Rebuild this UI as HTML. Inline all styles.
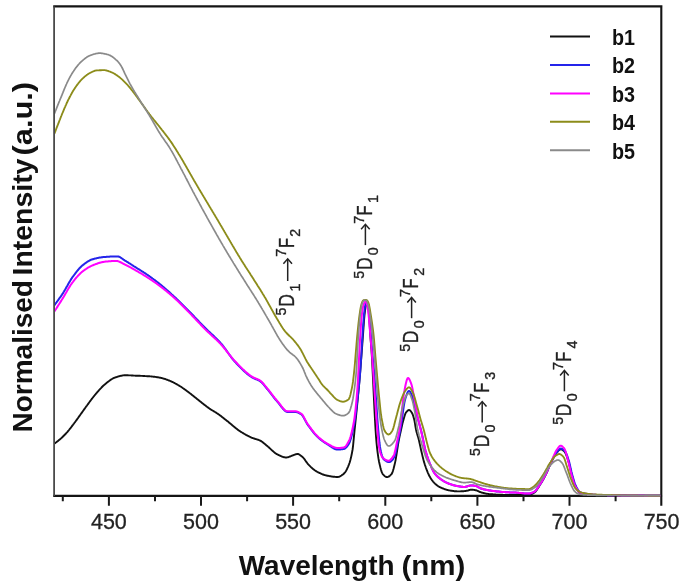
<!DOCTYPE html>
<html><head><meta charset="utf-8"><title>Spectra</title>
<style>html,body{margin:0;padding:0;background:#fff;}svg{display:block;will-change:transform;opacity:0.999;}body{font-family:"Liberation Sans",sans-serif;}</style></head>
<body>
<svg width="686" height="588" viewBox="0 0 686 588">
<rect x="0" y="0" width="686" height="588" fill="#ffffff"/>
<path d="M53.2,6.4 H662.4 M53.2,495.9 H662.4 M661.3,6.4 V505.7" stroke="#141414" stroke-width="2.1" fill="none"/>
<path d="M54.1,6.4 V495.9" stroke="#4a4a4a" stroke-width="1.8" fill="none"/>
<defs><clipPath id="c"><rect x="55.0" y="6.4" width="605.3" height="490.7"/></clipPath></defs>
<g clip-path="url(#c)" fill="none" stroke-linejoin="round" stroke-linecap="round">
<path d="M54.5,443.5 L55.0,443.2 L55.5,442.8 L56.0,442.5 L56.5,442.1 L57.0,441.7 L57.5,441.3 L58.0,440.9 L58.5,440.5 L59.0,440.1 L59.5,439.7 L60.0,439.3 L60.5,438.8 L61.0,438.4 L61.5,437.9 L62.0,437.5 L62.5,437.0 L63.0,436.5 L63.5,436.0 L64.0,435.5 L64.5,435.0 L65.0,434.5 L65.5,434.0 L66.0,433.5 L66.5,432.9 L67.0,432.4 L67.5,431.8 L68.0,431.2 L68.5,430.6 L69.0,430.0 L69.5,429.3 L70.0,428.7 L70.5,428.1 L71.0,427.4 L71.5,426.8 L72.0,426.1 L72.5,425.4 L73.0,424.8 L73.5,424.1 L74.0,423.5 L74.5,422.8 L75.0,422.1 L75.5,421.5 L76.0,420.8 L76.5,420.1 L77.0,419.4 L77.5,418.7 L78.0,418.1 L78.5,417.3 L79.0,416.6 L79.5,415.9 L80.0,415.2 L80.5,414.5 L81.0,413.8 L81.5,413.1 L82.0,412.4 L82.5,411.7 L83.0,411.0 L83.5,410.3 L84.0,409.6 L84.5,408.9 L85.0,408.2 L85.5,407.5 L86.0,406.8 L86.5,406.1 L87.0,405.5 L87.5,404.8 L88.0,404.1 L88.5,403.4 L89.0,402.7 L89.5,402.0 L90.0,401.3 L90.5,400.7 L91.0,400.0 L91.5,399.3 L92.0,398.7 L92.5,398.0 L93.0,397.4 L93.5,396.7 L94.0,396.1 L94.5,395.5 L95.0,394.9 L95.5,394.3 L96.0,393.7 L96.5,393.1 L97.0,392.5 L97.5,392.0 L98.0,391.4 L98.5,390.8 L99.0,390.2 L99.5,389.7 L100.0,389.1 L100.5,388.6 L101.0,388.1 L101.5,387.5 L102.0,387.0 L102.5,386.5 L103.0,386.0 L103.5,385.6 L104.0,385.1 L104.5,384.7 L105.0,384.3 L105.5,383.8 L106.0,383.4 L106.5,383.0 L107.0,382.6 L107.5,382.2 L108.0,381.8 L108.5,381.4 L109.0,381.0 L109.5,380.7 L110.0,380.3 L110.5,379.9 L111.0,379.6 L111.5,379.3 L112.0,379.0 L112.5,378.7 L113.0,378.4 L113.5,378.2 L114.0,377.9 L114.5,377.7 L115.0,377.6 L115.5,377.4 L116.0,377.2 L116.5,377.1 L117.0,376.9 L117.5,376.7 L118.0,376.6 L118.5,376.4 L119.0,376.3 L119.5,376.1 L120.0,376.0 L120.5,375.9 L121.0,375.8 L121.5,375.7 L122.0,375.6 L122.5,375.5 L123.0,375.4 L123.5,375.4 L124.0,375.3 L124.5,375.3 L125.0,375.3 L125.5,375.3 L126.0,375.3 L126.5,375.3 L127.0,375.3 L127.5,375.3 L128.0,375.3 L128.5,375.4 L129.0,375.4 L129.5,375.4 L130.0,375.4 L130.5,375.4 L131.0,375.4 L131.5,375.5 L132.0,375.5 L132.5,375.5 L133.0,375.5 L133.5,375.6 L134.0,375.6 L134.5,375.6 L135.0,375.6 L135.5,375.7 L136.0,375.7 L136.5,375.7 L137.0,375.7 L137.5,375.7 L138.0,375.8 L138.5,375.8 L139.0,375.8 L139.5,375.8 L140.0,375.8 L140.5,375.9 L141.0,375.9 L141.5,375.9 L142.0,375.9 L142.5,375.9 L143.0,376.0 L143.5,376.0 L144.0,376.0 L144.5,376.0 L145.0,376.1 L145.5,376.1 L146.0,376.1 L146.5,376.1 L147.0,376.2 L147.5,376.2 L148.0,376.2 L148.5,376.2 L149.0,376.3 L149.5,376.3 L150.0,376.4 L150.5,376.4 L151.0,376.4 L151.5,376.5 L152.0,376.5 L152.5,376.6 L153.0,376.6 L153.5,376.7 L154.0,376.7 L154.5,376.8 L155.0,376.9 L155.5,376.9 L156.0,377.0 L156.5,377.1 L157.0,377.2 L157.5,377.2 L158.0,377.3 L158.5,377.4 L159.0,377.5 L159.5,377.6 L160.0,377.7 L160.5,377.8 L161.0,377.9 L161.5,378.0 L162.0,378.1 L162.5,378.3 L163.0,378.4 L163.5,378.6 L164.0,378.7 L164.5,378.9 L165.0,379.0 L165.5,379.2 L166.0,379.4 L166.5,379.6 L167.0,379.7 L167.5,379.9 L168.0,380.1 L168.5,380.3 L169.0,380.5 L169.5,380.7 L170.0,380.9 L170.5,381.1 L171.0,381.3 L171.5,381.5 L172.0,381.8 L172.5,382.0 L173.0,382.2 L173.5,382.5 L174.0,382.8 L174.5,383.0 L175.0,383.3 L175.5,383.6 L176.0,383.8 L176.5,384.1 L177.0,384.4 L177.5,384.7 L178.0,385.0 L178.5,385.3 L179.0,385.6 L179.5,385.9 L180.0,386.2 L180.5,386.5 L181.0,386.8 L181.5,387.1 L182.0,387.5 L182.5,387.8 L183.0,388.2 L183.5,388.5 L184.0,388.9 L184.5,389.2 L185.0,389.6 L185.5,389.9 L186.0,390.3 L186.5,390.7 L187.0,391.1 L187.5,391.4 L188.0,391.8 L188.5,392.2 L189.0,392.6 L189.5,393.0 L190.0,393.3 L190.5,393.7 L191.0,394.1 L191.5,394.5 L192.0,394.9 L192.5,395.3 L193.0,395.7 L193.5,396.1 L194.0,396.5 L194.5,396.9 L195.0,397.3 L195.5,397.7 L196.0,398.1 L196.5,398.5 L197.0,398.9 L197.5,399.3 L198.0,399.7 L198.5,400.1 L199.0,400.5 L199.5,400.9 L200.0,401.3 L200.5,401.7 L201.0,402.1 L201.5,402.5 L202.0,402.9 L202.5,403.3 L203.0,403.7 L203.5,404.1 L204.0,404.5 L204.5,404.9 L205.0,405.2 L205.5,405.6 L206.0,406.0 L206.5,406.4 L207.0,406.8 L207.5,407.1 L208.0,407.5 L208.5,407.9 L209.0,408.2 L209.5,408.6 L210.0,408.9 L210.5,409.3 L211.0,409.6 L211.5,409.9 L212.0,410.2 L212.5,410.5 L213.0,410.8 L213.5,411.1 L214.0,411.4 L214.5,411.7 L215.0,412.0 L215.5,412.3 L216.0,412.6 L216.5,412.9 L217.0,413.3 L217.5,413.6 L218.0,413.9 L218.5,414.3 L219.0,414.6 L219.5,415.0 L220.0,415.4 L220.5,415.7 L221.0,416.1 L221.5,416.5 L222.0,416.9 L222.5,417.3 L223.0,417.7 L223.5,418.1 L224.0,418.5 L224.5,418.9 L225.0,419.3 L225.5,419.7 L226.0,420.1 L226.5,420.5 L227.0,420.9 L227.5,421.2 L228.0,421.6 L228.5,422.0 L229.0,422.5 L229.5,422.9 L230.0,423.3 L230.5,423.7 L231.0,424.1 L231.5,424.6 L232.0,425.0 L232.5,425.4 L233.0,425.8 L233.5,426.3 L234.0,426.7 L234.5,427.1 L235.0,427.5 L235.5,427.9 L236.0,428.3 L236.5,428.7 L237.0,429.1 L237.5,429.5 L238.0,429.9 L238.5,430.2 L239.0,430.6 L239.5,430.9 L240.0,431.2 L240.5,431.6 L241.0,431.9 L241.5,432.2 L242.0,432.5 L242.5,432.8 L243.0,433.1 L243.5,433.4 L244.0,433.7 L244.5,434.0 L245.0,434.3 L245.5,434.6 L246.0,434.9 L246.5,435.1 L247.0,435.4 L247.5,435.7 L248.0,435.9 L248.5,436.2 L249.0,436.4 L249.5,436.7 L250.0,436.9 L250.5,437.1 L251.0,437.4 L251.5,437.6 L252.0,437.8 L252.5,438.0 L253.0,438.2 L253.5,438.4 L254.0,438.5 L254.5,438.7 L255.0,438.8 L255.5,439.0 L256.0,439.1 L256.5,439.3 L257.0,439.4 L257.5,439.6 L258.0,439.7 L258.5,439.9 L259.0,440.1 L259.5,440.3 L260.0,440.5 L260.5,440.8 L261.0,441.0 L261.5,441.4 L262.0,441.7 L262.5,442.1 L263.0,442.5 L263.5,442.9 L264.0,443.3 L264.5,443.7 L265.0,444.1 L265.5,444.6 L266.0,445.0 L266.5,445.4 L267.0,445.8 L267.5,446.2 L268.0,446.7 L268.5,447.1 L269.0,447.5 L269.5,448.0 L270.0,448.4 L270.5,448.9 L271.0,449.4 L271.5,449.8 L272.0,450.3 L272.5,450.8 L273.0,451.2 L273.5,451.7 L274.0,452.1 L274.5,452.5 L275.0,452.9 L275.5,453.3 L276.0,453.6 L276.5,454.0 L277.0,454.2 L277.5,454.5 L278.0,454.7 L278.5,455.0 L279.0,455.2 L279.5,455.5 L280.0,455.7 L280.5,455.9 L281.0,456.2 L281.5,456.4 L282.0,456.6 L282.5,456.8 L283.0,456.9 L283.5,457.1 L284.0,457.2 L284.5,457.3 L285.0,457.4 L285.5,457.5 L286.0,457.5 L286.5,457.5 L287.0,457.4 L287.5,457.4 L288.0,457.2 L288.5,457.1 L289.0,456.9 L289.5,456.7 L290.0,456.5 L290.5,456.3 L291.0,456.1 L291.5,455.9 L292.0,455.7 L292.5,455.5 L293.0,455.3 L293.5,455.1 L294.0,454.9 L294.5,454.7 L295.0,454.6 L295.5,454.4 L296.0,454.2 L296.5,454.1 L297.0,454.0 L297.5,454.0 L298.0,454.0 L298.5,454.2 L299.0,454.4 L299.5,454.7 L300.0,455.0 L300.5,455.4 L301.0,455.8 L301.5,456.2 L302.0,456.6 L302.5,457.0 L303.0,457.4 L303.5,458.0 L304.0,458.6 L304.5,459.2 L305.0,459.9 L305.5,460.7 L306.0,461.4 L306.5,462.1 L307.0,462.8 L307.5,463.5 L308.0,464.2 L308.5,464.7 L309.0,465.2 L309.5,465.7 L310.0,466.2 L310.5,466.7 L311.0,467.2 L311.5,467.6 L312.0,468.1 L312.5,468.5 L313.0,468.9 L313.5,469.3 L314.0,469.7 L314.5,470.1 L315.0,470.5 L315.5,470.8 L316.0,471.1 L316.5,471.4 L317.0,471.7 L317.5,472.0 L318.0,472.3 L318.5,472.5 L319.0,472.7 L319.5,473.0 L320.0,473.2 L320.5,473.4 L321.0,473.7 L321.5,473.9 L322.0,474.1 L322.5,474.3 L323.0,474.5 L323.5,474.7 L324.0,474.8 L324.5,475.0 L325.0,475.1 L325.5,475.3 L326.0,475.4 L326.5,475.5 L327.0,475.7 L327.5,475.8 L328.0,475.8 L328.5,475.9 L329.0,476.0 L329.5,476.1 L330.0,476.2 L330.5,476.3 L331.0,476.4 L331.5,476.5 L332.0,476.5 L332.5,476.6 L333.0,476.7 L333.5,476.7 L334.0,476.8 L334.5,476.8 L335.0,476.9 L335.5,476.9 L336.0,477.0 L336.5,477.0 L337.0,477.0 L337.5,477.0 L338.0,477.0 L338.5,476.9 L339.0,476.8 L339.5,476.6 L340.0,476.3 L340.5,476.1 L341.0,475.8 L341.5,475.5 L342.0,475.1 L342.5,474.7 L343.0,474.4 L343.5,474.0 L344.0,473.5 L344.5,473.0 L345.0,472.4 L345.5,471.7 L346.0,470.9 L346.5,470.0 L347.0,469.0 L347.5,467.9 L348.0,466.8 L348.5,465.6 L349.0,464.4 L349.5,463.0 L350.0,461.4 L350.5,459.6 L351.0,457.6 L351.5,455.3 L352.0,452.8 L352.5,450.0 L353.0,446.3 L353.5,441.4 L354.0,436.1 L354.5,431.0 L355.0,426.2 L355.5,421.4 L356.0,416.6 L356.5,411.7 L357.0,406.7 L357.5,401.6 L358.0,396.4 L358.5,391.1 L359.0,385.7 L359.5,380.0 L360.0,374.1 L360.5,367.8 L361.0,361.5 L361.5,355.0 L362.0,348.4 L362.5,341.7 L363.0,335.0 L363.5,327.8 L364.0,320.7 L364.5,315.0 L365.0,310.8 L365.5,307.3 L366.0,305.0 L366.5,303.6 L367.0,303.0 L367.5,303.6 L368.0,305.0 L368.5,308.9 L369.0,315.0 L369.5,322.2 L370.0,330.4 L370.5,337.8 L371.0,344.1 L371.5,350.5 L372.0,358.4 L372.5,368.2 L373.0,378.8 L373.5,389.1 L374.0,399.9 L374.5,410.5 L375.0,420.0 L375.5,428.7 L376.0,436.5 L376.5,442.4 L377.0,447.3 L377.5,451.6 L378.0,455.4 L378.5,458.7 L379.0,461.5 L379.5,463.8 L380.0,465.9 L380.5,468.0 L381.0,469.8 L381.5,471.4 L382.0,472.7 L382.5,473.7 L383.0,474.4 L383.5,474.9 L384.0,475.4 L384.5,475.9 L385.0,476.3 L385.5,476.6 L386.0,476.9 L386.5,477.0 L387.0,477.1 L387.5,477.1 L388.0,476.9 L388.5,476.7 L389.0,476.5 L389.5,476.1 L390.0,475.7 L390.5,475.2 L391.0,474.7 L391.5,474.2 L392.0,473.3 L392.5,472.1 L393.0,470.6 L393.5,468.9 L394.0,467.0 L394.5,465.0 L395.0,462.9 L395.5,460.6 L396.0,457.7 L396.5,454.6 L397.0,451.3 L397.5,448.0 L398.0,444.8 L398.5,441.9 L399.0,439.3 L399.5,436.9 L400.0,434.5 L400.5,432.2 L401.0,430.0 L401.5,427.8 L402.0,425.6 L402.5,423.4 L403.0,421.4 L403.5,419.7 L404.0,417.9 L404.5,416.2 L405.0,414.7 L405.5,413.4 L406.0,412.5 L406.5,411.9 L407.0,411.3 L407.5,410.8 L408.0,410.4 L408.5,410.1 L409.0,410.0 L409.5,410.1 L410.0,410.4 L410.5,410.9 L411.0,411.5 L411.5,412.2 L412.0,413.0 L412.5,414.0 L413.0,415.3 L413.5,417.0 L414.0,418.8 L414.5,420.9 L415.0,423.7 L415.5,426.8 L416.0,429.5 L416.5,431.7 L417.0,433.5 L417.5,435.1 L418.0,436.8 L418.5,438.6 L419.0,440.6 L419.5,442.8 L420.0,445.1 L420.5,447.4 L421.0,449.7 L421.5,451.8 L422.0,453.9 L422.5,456.1 L423.0,458.1 L423.5,460.1 L424.0,461.9 L424.5,463.5 L425.0,465.1 L425.5,466.5 L426.0,468.0 L426.5,469.3 L427.0,470.7 L427.5,471.9 L428.0,473.1 L428.5,474.2 L429.0,475.3 L429.5,476.2 L430.0,477.1 L430.5,477.9 L431.0,478.7 L431.5,479.5 L432.0,480.2 L432.5,480.8 L433.0,481.5 L433.5,482.1 L434.0,482.7 L434.5,483.2 L435.0,483.7 L435.5,484.1 L436.0,484.5 L436.5,484.9 L437.0,485.3 L437.5,485.7 L438.0,486.0 L438.5,486.4 L439.0,486.7 L439.5,487.0 L440.0,487.2 L440.5,487.5 L441.0,487.7 L441.5,487.9 L442.0,488.1 L442.5,488.4 L443.0,488.5 L443.5,488.7 L444.0,488.9 L444.5,489.1 L445.0,489.3 L445.5,489.4 L446.0,489.6 L446.5,489.7 L447.0,489.9 L447.5,490.0 L448.0,490.1 L448.5,490.3 L449.0,490.4 L449.5,490.4 L450.0,490.5 L450.5,490.6 L451.0,490.7 L451.5,490.8 L452.0,490.8 L452.5,490.9 L453.0,491.0 L453.5,491.0 L454.0,491.1 L454.5,491.2 L455.0,491.2 L455.5,491.3 L456.0,491.3 L456.5,491.3 L457.0,491.4 L457.5,491.4 L458.0,491.4 L458.5,491.4 L459.0,491.4 L459.5,491.4 L460.0,491.4 L460.5,491.4 L461.0,491.3 L461.5,491.3 L462.0,491.3 L462.5,491.3 L463.0,491.2 L463.5,491.2 L464.0,491.1 L464.5,491.1 L465.0,491.0 L465.5,491.0 L466.0,490.9 L466.5,490.8 L467.0,490.7 L467.5,490.6 L468.0,490.5 L468.5,490.3 L469.0,490.2 L469.5,490.0 L470.0,489.9 L470.5,489.8 L471.0,489.8 L471.5,489.8 L472.0,489.8 L472.5,489.8 L473.0,489.8 L473.5,489.9 L474.0,489.9 L474.5,490.0 L475.0,490.1 L475.5,490.2 L476.0,490.3 L476.5,490.4 L477.0,490.6 L477.5,490.8 L478.0,491.0 L478.5,491.3 L479.0,491.5 L479.5,491.8 L480.0,492.0 L480.5,492.2 L481.0,492.4 L481.5,492.5 L482.0,492.7 L482.5,492.8 L483.0,492.9 L483.5,493.0 L484.0,493.2 L484.5,493.3 L485.0,493.4 L485.5,493.5 L486.0,493.6 L486.5,493.7 L487.0,493.8 L487.5,493.9 L488.0,493.9 L488.5,494.0 L489.0,494.1 L489.5,494.1 L490.0,494.2 L490.5,494.2 L491.0,494.2 L491.5,494.3 L492.0,494.3 L492.5,494.3 L493.0,494.4 L493.5,494.4 L494.0,494.4 L494.5,494.5 L495.0,494.5 L495.5,494.5 L496.0,494.6 L496.5,494.6 L497.0,494.6 L497.5,494.6 L498.0,494.7 L498.5,494.7 L499.0,494.7 L499.5,494.7 L500.0,494.8 L500.5,494.8 L501.0,494.8 L501.5,494.8 L502.0,494.8 L502.5,494.8 L503.0,494.9 L503.5,494.9 L504.0,494.9 L504.5,494.9 L505.0,494.9 L505.5,494.9 L506.0,494.9 L506.5,494.9 L507.0,494.9 L507.5,494.9 L508.0,494.9 L508.5,494.9 L509.0,494.9 L509.5,494.9 L510.0,494.9 L510.5,494.9 L511.0,494.9 L511.5,494.9 L512.0,494.9 L512.5,494.9 L513.0,494.9 L513.5,494.9 L514.0,494.9 L514.5,494.9 L515.0,494.9 L515.5,494.9 L516.0,494.9 L516.5,494.9 L517.0,494.9 L517.5,494.9 L518.0,494.9 L518.5,494.9 L519.0,494.9 L519.5,494.9 L520.0,494.9 L520.5,494.9 L521.0,494.9 L521.5,494.9 L522.0,494.9 L522.5,494.9 L523.0,494.9 L523.5,494.9 L524.0,494.9 L524.5,494.9 L525.0,494.9 L525.5,494.9 L526.0,494.9 L526.5,494.8 L527.0,494.8 L527.5,494.8 L528.0,494.8 L528.5,494.8 L529.0,494.8 L529.5,494.7 L530.0,494.6 L530.5,494.5 L531.0,494.3 L531.5,494.1 L532.0,493.9 L532.5,493.6 L533.0,493.4 L533.5,493.1 L534.0,492.8 L534.5,492.5 L535.0,492.1 L535.5,491.6 L536.0,491.0 L536.5,490.3 L537.0,489.6 L537.5,488.8 L538.0,488.0 L538.5,487.2 L539.0,486.4 L539.5,485.6 L540.0,484.8 L540.5,484.0 L541.0,483.2 L541.5,482.4 L542.0,481.6 L542.5,480.7 L543.0,479.8 L543.5,479.0 L544.0,478.0 L544.5,477.1 L545.0,476.2 L545.5,475.2 L546.0,474.2 L546.5,473.1 L547.0,472.0 L547.5,470.9 L548.0,469.7 L548.5,468.5 L549.0,467.3 L549.5,466.1 L550.0,465.0 L550.5,463.9 L551.0,462.8 L551.5,461.8 L552.0,460.8 L552.5,459.8 L553.0,458.8 L553.5,457.9 L554.0,456.9 L554.5,456.0 L555.0,455.2 L555.5,454.3 L556.0,453.6 L556.5,452.9 L557.0,452.3 L557.5,451.8 L558.0,451.2 L558.5,450.7 L559.0,450.2 L559.5,449.8 L560.0,449.5 L560.5,449.3 L561.0,449.3 L561.5,449.4 L562.0,449.7 L562.5,449.9 L563.0,450.3 L563.5,450.7 L564.0,451.2 L564.5,451.7 L565.0,452.3 L565.5,453.2 L566.0,454.3 L566.5,455.6 L567.0,457.0 L567.5,458.5 L568.0,460.1 L568.5,461.6 L569.0,463.4 L569.5,465.4 L570.0,467.6 L570.5,469.8 L571.0,471.9 L571.5,473.9 L572.0,475.7 L572.5,477.5 L573.0,479.3 L573.5,481.0 L574.0,482.7 L574.5,484.1 L575.0,485.4 L575.5,486.5 L576.0,487.5 L576.5,488.4 L577.0,489.3 L577.5,490.2 L578.0,490.9 L578.5,491.6 L579.0,492.2 L579.5,492.6 L580.0,493.0 L580.5,493.1 L581.0,493.2 L581.5,493.4 L582.0,493.5 L582.5,493.6 L583.0,493.7 L583.5,493.8 L584.0,493.9 L584.5,494.0 L585.0,494.1 L585.5,494.1 L586.0,494.2 L586.5,494.3 L587.0,494.4 L587.5,494.4 L588.0,494.5 L588.5,494.6 L589.0,494.6 L589.5,494.7 L590.0,494.7 L590.5,494.8 L591.0,494.8 L591.5,494.9 L592.0,494.9 L592.5,494.9 L593.0,495.0 L593.5,495.0 L594.0,495.0 L594.5,495.0 L595.0,495.1 L595.5,495.1 L596.0,495.1 L596.5,495.1 L597.0,495.1 L597.5,495.1 L598.0,495.1 L598.5,495.2 L599.0,495.2 L599.5,495.2 L600.0,495.2 L600.5,495.2 L601.0,495.2 L601.5,495.2 L602.0,495.2 L602.5,495.2 L603.0,495.2 L603.5,495.2 L604.0,495.3 L604.5,495.3 L605.0,495.3 L605.5,495.3 L606.0,495.3 L606.5,495.3 L607.0,495.3 L607.5,495.3 L608.0,495.3 L608.5,495.3 L609.0,495.3 L609.5,495.3 L610.0,495.4 L610.5,495.4 L611.0,495.4 L611.5,495.4 L612.0,495.4 L612.5,495.4 L613.0,495.4 L613.5,495.4 L614.0,495.4 L614.5,495.4 L615.0,495.4 L615.5,495.4 L616.0,495.4 L616.5,495.4 L617.0,495.4 L617.5,495.5 L618.0,495.5 L618.5,495.5 L619.0,495.5 L619.5,495.5 L620.0,495.5 L620.5,495.5 L621.0,495.5 L621.5,495.5 L622.0,495.5 L622.5,495.5 L623.0,495.5 L623.5,495.5 L624.0,495.5 L624.5,495.5 L625.0,495.5 L625.5,495.5 L626.0,495.5 L626.5,495.5 L627.0,495.6 L627.5,495.6 L628.0,495.6 L628.5,495.6 L629.0,495.6 L629.5,495.6 L630.0,495.6 L630.5,495.6 L631.0,495.6 L631.5,495.6 L632.0,495.6 L632.5,495.6 L633.0,495.6 L633.5,495.6 L634.0,495.6 L634.5,495.6 L635.0,495.6 L635.5,495.6 L636.0,495.6 L636.5,495.6 L637.0,495.6 L637.5,495.6 L638.0,495.6 L638.5,495.6 L639.0,495.6 L639.5,495.6 L640.0,495.6 L640.5,495.6 L641.0,495.7 L641.5,495.7 L642.0,495.7 L642.5,495.7 L643.0,495.7 L643.5,495.7 L644.0,495.7 L644.5,495.7 L645.0,495.7 L645.5,495.7 L646.0,495.7 L646.5,495.7 L647.0,495.7 L647.5,495.7 L648.0,495.7 L648.5,495.7 L649.0,495.7 L649.5,495.7 L650.0,495.7 L650.5,495.7 L651.0,495.7 L651.5,495.7 L652.0,495.7 L652.5,495.7 L653.0,495.7 L653.5,495.7 L654.0,495.7 L654.5,495.7 L655.0,495.7 L655.5,495.7 L656.0,495.7 L656.5,495.7 L657.0,495.7 L657.5,495.7 L658.0,495.7 L658.5,495.7 L659.0,495.7 L659.5,495.7 L660.0,495.7 L660.5,495.7 L661.0,495.7 L661.5,495.7" stroke="#111111" stroke-width="1.9"/>
<path d="M54.5,305.0 L55.0,304.4 L55.5,303.7 L56.0,303.0 L56.5,302.4 L57.0,301.7 L57.5,301.0 L58.0,300.3 L58.5,299.6 L59.0,298.9 L59.5,298.2 L60.0,297.5 L60.5,296.8 L61.0,296.1 L61.5,295.3 L62.0,294.6 L62.5,293.8 L63.0,293.1 L63.5,292.3 L64.0,291.5 L64.5,290.6 L65.0,289.8 L65.5,288.9 L66.0,288.0 L66.5,287.1 L67.0,286.3 L67.5,285.4 L68.0,284.5 L68.5,283.6 L69.0,282.7 L69.5,281.9 L70.0,281.1 L70.5,280.2 L71.0,279.4 L71.5,278.7 L72.0,277.9 L72.5,277.2 L73.0,276.5 L73.5,275.8 L74.0,275.2 L74.5,274.5 L75.0,273.8 L75.5,273.1 L76.0,272.5 L76.5,271.8 L77.0,271.2 L77.5,270.6 L78.0,270.0 L78.5,269.4 L79.0,268.8 L79.5,268.3 L80.0,267.7 L80.5,267.2 L81.0,266.7 L81.5,266.2 L82.0,265.8 L82.5,265.4 L83.0,265.0 L83.5,264.6 L84.0,264.2 L84.5,263.8 L85.0,263.4 L85.5,263.1 L86.0,262.7 L86.5,262.4 L87.0,262.0 L87.5,261.7 L88.0,261.4 L88.5,261.1 L89.0,260.8 L89.5,260.5 L90.0,260.3 L90.5,260.0 L91.0,259.8 L91.5,259.6 L92.0,259.5 L92.5,259.3 L93.0,259.2 L93.5,259.0 L94.0,258.9 L94.5,258.7 L95.0,258.6 L95.5,258.5 L96.0,258.4 L96.5,258.3 L97.0,258.1 L97.5,258.0 L98.0,257.9 L98.5,257.8 L99.0,257.7 L99.5,257.6 L100.0,257.6 L100.5,257.5 L101.0,257.4 L101.5,257.3 L102.0,257.3 L102.5,257.2 L103.0,257.1 L103.5,257.1 L104.0,257.0 L104.5,257.0 L105.0,257.0 L105.5,256.9 L106.0,256.9 L106.5,256.8 L107.0,256.8 L107.5,256.8 L108.0,256.8 L108.5,256.7 L109.0,256.7 L109.5,256.7 L110.0,256.6 L110.5,256.6 L111.0,256.6 L111.5,256.6 L112.0,256.5 L112.5,256.5 L113.0,256.5 L113.5,256.5 L114.0,256.5 L114.5,256.4 L115.0,256.4 L115.5,256.4 L116.0,256.4 L116.5,256.4 L117.0,256.4 L117.5,256.4 L118.0,256.4 L118.5,256.5 L119.0,256.7 L119.5,256.9 L120.0,257.2 L120.5,257.5 L121.0,257.8 L121.5,258.1 L122.0,258.5 L122.5,258.8 L123.0,259.2 L123.5,259.6 L124.0,259.9 L124.5,260.3 L125.0,260.6 L125.5,260.9 L126.0,261.2 L126.5,261.5 L127.0,261.8 L127.5,262.1 L128.0,262.4 L128.5,262.7 L129.0,263.1 L129.5,263.4 L130.0,263.7 L130.5,264.0 L131.0,264.3 L131.5,264.7 L132.0,265.0 L132.5,265.3 L133.0,265.6 L133.5,266.0 L134.0,266.3 L134.5,266.6 L135.0,266.9 L135.5,267.2 L136.0,267.5 L136.5,267.9 L137.0,268.2 L137.5,268.5 L138.0,268.8 L138.5,269.1 L139.0,269.4 L139.5,269.7 L140.0,270.0 L140.5,270.4 L141.0,270.7 L141.5,271.0 L142.0,271.3 L142.5,271.6 L143.0,271.9 L143.5,272.2 L144.0,272.6 L144.5,272.9 L145.0,273.2 L145.5,273.5 L146.0,273.9 L146.5,274.2 L147.0,274.6 L147.5,274.9 L148.0,275.2 L148.5,275.6 L149.0,275.9 L149.5,276.3 L150.0,276.6 L150.5,277.0 L151.0,277.4 L151.5,277.7 L152.0,278.1 L152.5,278.5 L153.0,278.8 L153.5,279.2 L154.0,279.6 L154.5,279.9 L155.0,280.3 L155.5,280.7 L156.0,281.1 L156.5,281.5 L157.0,281.9 L157.5,282.2 L158.0,282.6 L158.5,283.0 L159.0,283.4 L159.5,283.8 L160.0,284.2 L160.5,284.6 L161.0,285.0 L161.5,285.4 L162.0,285.9 L162.5,286.3 L163.0,286.7 L163.5,287.1 L164.0,287.5 L164.5,288.0 L165.0,288.4 L165.5,288.8 L166.0,289.3 L166.5,289.7 L167.0,290.1 L167.5,290.6 L168.0,291.0 L168.5,291.4 L169.0,291.9 L169.5,292.3 L170.0,292.8 L170.5,293.2 L171.0,293.7 L171.5,294.2 L172.0,294.6 L172.5,295.1 L173.0,295.5 L173.5,296.0 L174.0,296.4 L174.5,296.9 L175.0,297.4 L175.5,297.8 L176.0,298.3 L176.5,298.8 L177.0,299.3 L177.5,299.7 L178.0,300.2 L178.5,300.7 L179.0,301.2 L179.5,301.7 L180.0,302.2 L180.5,302.7 L181.0,303.2 L181.5,303.7 L182.0,304.2 L182.5,304.7 L183.0,305.2 L183.5,305.7 L184.0,306.2 L184.5,306.7 L185.0,307.2 L185.5,307.7 L186.0,308.2 L186.5,308.7 L187.0,309.2 L187.5,309.7 L188.0,310.2 L188.5,310.7 L189.0,311.2 L189.5,311.7 L190.0,312.2 L190.5,312.8 L191.0,313.3 L191.5,313.8 L192.0,314.3 L192.5,314.8 L193.0,315.3 L193.5,315.8 L194.0,316.3 L194.5,316.9 L195.0,317.4 L195.5,317.9 L196.0,318.4 L196.5,318.9 L197.0,319.5 L197.5,320.0 L198.0,320.5 L198.5,321.0 L199.0,321.6 L199.5,322.1 L200.0,322.6 L200.5,323.1 L201.0,323.6 L201.5,324.1 L202.0,324.7 L202.5,325.2 L203.0,325.7 L203.5,326.2 L204.0,326.7 L204.5,327.2 L205.0,327.7 L205.5,328.2 L206.0,328.7 L206.5,329.2 L207.0,329.7 L207.5,330.2 L208.0,330.7 L208.5,331.1 L209.0,331.6 L209.5,332.1 L210.0,332.5 L210.5,333.0 L211.0,333.5 L211.5,333.9 L212.0,334.4 L212.5,334.9 L213.0,335.3 L213.5,335.8 L214.0,336.3 L214.5,336.8 L215.0,337.2 L215.5,337.7 L216.0,338.2 L216.5,338.7 L217.0,339.2 L217.5,339.7 L218.0,340.2 L218.5,340.7 L219.0,341.3 L219.5,341.8 L220.0,342.3 L220.5,342.9 L221.0,343.4 L221.5,344.0 L222.0,344.6 L222.5,345.2 L223.0,345.9 L223.5,346.5 L224.0,347.2 L224.5,347.8 L225.0,348.5 L225.5,349.2 L226.0,349.9 L226.5,350.6 L227.0,351.3 L227.5,352.0 L228.0,352.7 L228.5,353.5 L229.0,354.2 L229.5,354.9 L230.0,355.6 L230.5,356.2 L231.0,356.9 L231.5,357.6 L232.0,358.3 L232.5,358.9 L233.0,359.5 L233.5,360.1 L234.0,360.7 L234.5,361.3 L235.0,361.9 L235.5,362.4 L236.0,362.9 L236.5,363.5 L237.0,364.0 L237.5,364.5 L238.0,365.0 L238.5,365.6 L239.0,366.1 L239.5,366.6 L240.0,367.1 L240.5,367.6 L241.0,368.1 L241.5,368.6 L242.0,369.1 L242.5,369.6 L243.0,370.1 L243.5,370.6 L244.0,371.0 L244.5,371.5 L245.0,371.9 L245.5,372.4 L246.0,372.8 L246.5,373.2 L247.0,373.7 L247.5,374.1 L248.0,374.5 L248.5,374.9 L249.0,375.2 L249.5,375.6 L250.0,376.0 L250.5,376.3 L251.0,376.7 L251.5,377.0 L252.0,377.3 L252.5,377.6 L253.0,377.9 L253.5,378.1 L254.0,378.4 L254.5,378.6 L255.0,378.8 L255.5,379.0 L256.0,379.2 L256.5,379.4 L257.0,379.6 L257.5,379.8 L258.0,380.0 L258.5,380.2 L259.0,380.5 L259.5,380.8 L260.0,381.1 L260.5,381.5 L261.0,381.9 L261.5,382.3 L262.0,382.8 L262.5,383.3 L263.0,383.9 L263.5,384.4 L264.0,385.0 L264.5,385.7 L265.0,386.3 L265.5,386.9 L266.0,387.5 L266.5,388.1 L267.0,388.8 L267.5,389.4 L268.0,389.9 L268.5,390.5 L269.0,391.2 L269.5,391.8 L270.0,392.4 L270.5,393.1 L271.0,393.7 L271.5,394.4 L272.0,395.0 L272.5,395.7 L273.0,396.3 L273.5,397.0 L274.0,397.6 L274.5,398.3 L275.0,398.9 L275.5,399.5 L276.0,400.1 L276.5,400.7 L277.0,401.3 L277.5,401.9 L278.0,402.4 L278.5,403.0 L279.0,403.7 L279.5,404.3 L280.0,405.0 L280.5,405.6 L281.0,406.3 L281.5,407.0 L282.0,407.6 L282.5,408.2 L283.0,408.8 L283.5,409.4 L284.0,409.9 L284.5,410.4 L285.0,410.8 L285.5,411.2 L286.0,411.5 L286.5,411.7 L287.0,411.8 L287.5,411.9 L288.0,411.9 L288.5,411.9 L289.0,411.9 L289.5,411.9 L290.0,411.9 L290.5,411.9 L291.0,411.9 L291.5,411.9 L292.0,411.9 L292.5,411.9 L293.0,411.9 L293.5,411.9 L294.0,411.9 L294.5,411.9 L295.0,411.9 L295.5,411.9 L296.0,411.9 L296.5,412.0 L297.0,412.2 L297.5,412.3 L298.0,412.5 L298.5,412.8 L299.0,413.0 L299.5,413.3 L300.0,413.6 L300.5,413.9 L301.0,414.2 L301.5,414.5 L302.0,415.0 L302.5,415.6 L303.0,416.3 L303.5,417.2 L304.0,418.0 L304.5,419.0 L305.0,419.9 L305.5,420.9 L306.0,421.8 L306.5,422.8 L307.0,423.6 L307.5,424.4 L308.0,425.1 L308.5,425.8 L309.0,426.5 L309.5,427.2 L310.0,427.9 L310.5,428.5 L311.0,429.2 L311.5,429.9 L312.0,430.6 L312.5,431.2 L313.0,431.8 L313.5,432.5 L314.0,433.1 L314.5,433.7 L315.0,434.2 L315.5,434.8 L316.0,435.3 L316.5,435.9 L317.0,436.4 L317.5,436.9 L318.0,437.3 L318.5,437.8 L319.0,438.2 L319.5,438.6 L320.0,439.1 L320.5,439.5 L321.0,439.9 L321.5,440.3 L322.0,440.6 L322.5,441.0 L323.0,441.4 L323.5,441.7 L324.0,442.1 L324.5,442.4 L325.0,442.8 L325.5,443.1 L326.0,443.4 L326.5,443.7 L327.0,444.0 L327.5,444.4 L328.0,444.7 L328.5,445.0 L329.0,445.3 L329.5,445.7 L330.0,446.0 L330.5,446.4 L331.0,446.7 L331.5,447.0 L332.0,447.4 L332.5,447.7 L333.0,448.0 L333.5,448.3 L334.0,448.5 L334.5,448.8 L335.0,449.0 L335.5,449.2 L336.0,449.3 L336.5,449.4 L337.0,449.5 L337.5,449.5 L338.0,449.5 L338.5,449.5 L339.0,449.5 L339.5,449.4 L340.0,449.4 L340.5,449.4 L341.0,449.3 L341.5,449.3 L342.0,449.2 L342.5,449.2 L343.0,449.1 L343.5,449.0 L344.0,448.9 L344.5,448.8 L345.0,448.5 L345.5,448.1 L346.0,447.6 L346.5,447.1 L347.0,446.5 L347.5,445.9 L348.0,445.2 L348.5,444.5 L349.0,443.6 L349.5,442.5 L350.0,441.3 L350.5,439.8 L351.0,438.1 L351.5,436.2 L352.0,434.2 L352.5,432.1 L353.0,429.8 L353.5,427.4 L354.0,425.0 L354.5,422.3 L355.0,419.2 L355.5,415.7 L356.0,411.9 L356.5,407.8 L357.0,403.5 L357.5,399.1 L358.0,394.6 L358.5,390.0 L359.0,385.3 L359.5,380.2 L360.0,374.5 L360.5,367.8 L361.0,359.9 L361.5,351.7 L362.0,343.1 L362.5,335.0 L363.0,327.6 L363.5,320.7 L364.0,315.0 L364.5,310.2 L365.0,306.4 L365.5,304.4 L366.0,303.0 L366.5,302.2 L367.0,302.1 L367.5,302.7 L368.0,304.0 L368.5,306.1 L369.0,311.4 L369.5,317.4 L370.0,324.1 L370.5,331.1 L371.0,337.5 L371.5,343.5 L372.0,349.4 L372.5,355.0 L373.0,360.3 L373.5,365.3 L374.0,370.5 L374.5,376.5 L375.0,383.6 L375.5,391.2 L376.0,398.6 L376.5,406.0 L377.0,413.5 L377.5,420.7 L378.0,427.0 L378.5,432.7 L379.0,438.1 L379.5,443.0 L380.0,446.9 L380.5,449.6 L381.0,451.9 L381.5,453.9 L382.0,455.7 L382.5,457.2 L383.0,458.3 L383.5,459.0 L384.0,459.5 L384.5,459.9 L385.0,460.3 L385.5,460.7 L386.0,461.0 L386.5,461.3 L387.0,461.6 L387.5,461.8 L388.0,461.9 L388.5,462.0 L389.0,462.1 L389.5,462.1 L390.0,462.0 L390.5,461.7 L391.0,461.4 L391.5,460.9 L392.0,460.4 L392.5,459.8 L393.0,459.1 L393.5,458.3 L394.0,457.5 L394.5,456.6 L395.0,455.3 L395.5,453.4 L396.0,451.3 L396.5,448.9 L397.0,446.3 L397.5,443.8 L398.0,441.4 L398.5,439.0 L399.0,436.6 L399.5,434.0 L400.0,431.4 L400.5,428.7 L401.0,425.8 L401.5,422.6 L402.0,419.0 L402.5,415.3 L403.0,411.5 L403.5,408.0 L404.0,404.8 L404.5,402.1 L405.0,400.0 L405.5,398.3 L406.0,396.7 L406.5,395.2 L407.0,393.8 L407.5,392.6 L408.0,391.7 L408.5,391.1 L409.0,390.9 L409.5,391.1 L410.0,391.6 L410.5,392.4 L411.0,393.4 L411.5,394.5 L412.0,395.7 L412.5,397.0 L413.0,398.6 L413.5,400.6 L414.0,403.0 L414.5,405.4 L415.0,407.8 L415.5,410.0 L416.0,411.9 L416.5,413.8 L417.0,415.6 L417.5,417.4 L418.0,419.2 L418.5,421.0 L419.0,422.8 L419.5,424.6 L420.0,426.4 L420.5,428.2 L421.0,430.1 L421.5,432.1 L422.0,434.2 L422.5,436.5 L423.0,439.0 L423.5,441.5 L424.0,444.0 L424.5,446.4 L425.0,448.7 L425.5,450.7 L426.0,452.4 L426.5,454.1 L427.0,455.7 L427.5,457.2 L428.0,458.6 L428.5,460.0 L429.0,461.3 L429.5,462.6 L430.0,463.8 L430.5,465.0 L431.0,466.2 L431.5,467.3 L432.0,468.5 L432.5,469.6 L433.0,470.6 L433.5,471.6 L434.0,472.5 L434.5,473.2 L435.0,473.8 L435.5,474.4 L436.0,475.0 L436.5,475.5 L437.0,476.0 L437.5,476.5 L438.0,477.0 L438.5,477.4 L439.0,477.8 L439.5,478.2 L440.0,478.6 L440.5,479.0 L441.0,479.3 L441.5,479.7 L442.0,480.0 L442.5,480.4 L443.0,480.7 L443.5,481.0 L444.0,481.3 L444.5,481.6 L445.0,481.9 L445.5,482.1 L446.0,482.4 L446.5,482.6 L447.0,482.9 L447.5,483.1 L448.0,483.3 L448.5,483.5 L449.0,483.7 L449.5,483.9 L450.0,484.1 L450.5,484.2 L451.0,484.4 L451.5,484.6 L452.0,484.7 L452.5,484.9 L453.0,485.0 L453.5,485.2 L454.0,485.3 L454.5,485.4 L455.0,485.6 L455.5,485.7 L456.0,485.8 L456.5,485.9 L457.0,486.0 L457.5,486.1 L458.0,486.2 L458.5,486.2 L459.0,486.3 L459.5,486.4 L460.0,486.5 L460.5,486.6 L461.0,486.7 L461.5,486.7 L462.0,486.8 L462.5,486.8 L463.0,486.9 L463.5,486.9 L464.0,486.9 L464.5,486.9 L465.0,486.9 L465.5,486.8 L466.0,486.7 L466.5,486.6 L467.0,486.4 L467.5,486.3 L468.0,486.1 L468.5,485.9 L469.0,485.8 L469.5,485.7 L470.0,485.6 L470.5,485.5 L471.0,485.4 L471.5,485.4 L472.0,485.4 L472.5,485.5 L473.0,485.5 L473.5,485.6 L474.0,485.7 L474.5,485.8 L475.0,485.9 L475.5,486.0 L476.0,486.1 L476.5,486.2 L477.0,486.4 L477.5,486.7 L478.0,487.0 L478.5,487.2 L479.0,487.5 L479.5,487.8 L480.0,488.1 L480.5,488.3 L481.0,488.5 L481.5,488.7 L482.0,488.8 L482.5,489.0 L483.0,489.1 L483.5,489.3 L484.0,489.4 L484.5,489.5 L485.0,489.6 L485.5,489.7 L486.0,489.8 L486.5,489.9 L487.0,490.0 L487.5,490.1 L488.0,490.2 L488.5,490.3 L489.0,490.4 L489.5,490.5 L490.0,490.5 L490.5,490.6 L491.0,490.7 L491.5,490.7 L492.0,490.8 L492.5,490.9 L493.0,490.9 L493.5,491.0 L494.0,491.1 L494.5,491.1 L495.0,491.2 L495.5,491.2 L496.0,491.3 L496.5,491.4 L497.0,491.4 L497.5,491.5 L498.0,491.5 L498.5,491.6 L499.0,491.6 L499.5,491.7 L500.0,491.7 L500.5,491.8 L501.0,491.8 L501.5,491.9 L502.0,491.9 L502.5,491.9 L503.0,492.0 L503.5,492.0 L504.0,492.0 L504.5,492.1 L505.0,492.1 L505.5,492.2 L506.0,492.2 L506.5,492.2 L507.0,492.2 L507.5,492.3 L508.0,492.3 L508.5,492.3 L509.0,492.3 L509.5,492.4 L510.0,492.4 L510.5,492.4 L511.0,492.4 L511.5,492.4 L512.0,492.4 L512.5,492.4 L513.0,492.5 L513.5,492.5 L514.0,492.5 L514.5,492.5 L515.0,492.5 L515.5,492.6 L516.0,492.6 L516.5,492.7 L517.0,492.7 L517.5,492.7 L518.0,492.8 L518.5,492.8 L519.0,492.9 L519.5,492.9 L520.0,493.0 L520.5,493.0 L521.0,493.1 L521.5,493.1 L522.0,493.2 L522.5,493.2 L523.0,493.3 L523.5,493.3 L524.0,493.4 L524.5,493.4 L525.0,493.5 L525.5,493.5 L526.0,493.5 L526.5,493.6 L527.0,493.6 L527.5,493.6 L528.0,493.6 L528.5,493.6 L529.0,493.6 L529.5,493.5 L530.0,493.5 L530.5,493.3 L531.0,493.2 L531.5,493.0 L532.0,492.8 L532.5,492.6 L533.0,492.4 L533.5,492.2 L534.0,491.9 L534.5,491.6 L535.0,491.3 L535.5,490.8 L536.0,490.2 L536.5,489.6 L537.0,488.9 L537.5,488.2 L538.0,487.4 L538.5,486.6 L539.0,485.8 L539.5,485.1 L540.0,484.3 L540.5,483.5 L541.0,482.8 L541.5,481.9 L542.0,481.1 L542.5,480.3 L543.0,479.4 L543.5,478.5 L544.0,477.6 L544.5,476.6 L545.0,475.7 L545.5,474.7 L546.0,473.7 L546.5,472.6 L547.0,471.5 L547.5,470.3 L548.0,469.1 L548.5,467.9 L549.0,466.7 L549.5,465.5 L550.0,464.4 L550.5,463.2 L551.0,462.2 L551.5,461.2 L552.0,460.3 L552.5,459.3 L553.0,458.4 L553.5,457.5 L554.0,456.6 L554.5,455.8 L555.0,454.9 L555.5,454.2 L556.0,453.4 L556.5,452.7 L557.0,452.1 L557.5,451.5 L558.0,450.9 L558.5,450.2 L559.0,449.7 L559.5,449.2 L560.0,448.8 L560.5,448.6 L561.0,448.6 L561.5,448.7 L562.0,448.9 L562.5,449.2 L563.0,449.5 L563.5,449.9 L564.0,450.3 L564.5,450.7 L565.0,451.2 L565.5,451.9 L566.0,452.9 L566.5,454.0 L567.0,455.3 L567.5,456.7 L568.0,458.2 L568.5,459.7 L569.0,461.3 L569.5,463.2 L570.0,465.4 L570.5,467.6 L571.0,469.8 L571.5,472.0 L572.0,473.9 L572.5,475.7 L573.0,477.6 L573.5,479.3 L574.0,481.0 L574.5,482.6 L575.0,484.1 L575.5,485.3 L576.0,486.3 L576.5,487.3 L577.0,488.2 L577.5,489.1 L578.0,490.0 L578.5,490.7 L579.0,491.4 L579.5,491.9 L580.0,492.3 L580.5,492.5 L581.0,492.7 L581.5,492.8 L582.0,492.9 L582.5,493.1 L583.0,493.2 L583.5,493.3 L584.0,493.4 L584.5,493.5 L585.0,493.6 L585.5,493.7 L586.0,493.8 L586.5,493.9 L587.0,494.0 L587.5,494.1 L588.0,494.1 L588.5,494.2 L589.0,494.3 L589.5,494.3 L590.0,494.4 L590.5,494.5 L591.0,494.5 L591.5,494.6 L592.0,494.6 L592.5,494.6 L593.0,494.7 L593.5,494.7 L594.0,494.8 L594.5,494.8 L595.0,494.8 L595.5,494.8 L596.0,494.9 L596.5,494.9 L597.0,494.9 L597.5,494.9 L598.0,494.9 L598.5,494.9 L599.0,495.0 L599.5,495.0 L600.0,495.0 L600.5,495.0 L601.0,495.0 L601.5,495.0 L602.0,495.0 L602.5,495.0 L603.0,495.1 L603.5,495.1 L604.0,495.1 L604.5,495.1 L605.0,495.1 L605.5,495.1 L606.0,495.1 L606.5,495.1 L607.0,495.1 L607.5,495.2 L608.0,495.2 L608.5,495.2 L609.0,495.2 L609.5,495.2 L610.0,495.2 L610.5,495.2 L611.0,495.2 L611.5,495.2 L612.0,495.3 L612.5,495.3 L613.0,495.3 L613.5,495.3 L614.0,495.3 L614.5,495.3 L615.0,495.3 L615.5,495.3 L616.0,495.3 L616.5,495.3 L617.0,495.3 L617.5,495.4 L618.0,495.4 L618.5,495.4 L619.0,495.4 L619.5,495.4 L620.0,495.4 L620.5,495.4 L621.0,495.4 L621.5,495.4 L622.0,495.4 L622.5,495.4 L623.0,495.4 L623.5,495.4 L624.0,495.5 L624.5,495.5 L625.0,495.5 L625.5,495.5 L626.0,495.5 L626.5,495.5 L627.0,495.5 L627.5,495.5 L628.0,495.5 L628.5,495.5 L629.0,495.5 L629.5,495.5 L630.0,495.5 L630.5,495.5 L631.0,495.5 L631.5,495.5 L632.0,495.5 L632.5,495.6 L633.0,495.6 L633.5,495.6 L634.0,495.6 L634.5,495.6 L635.0,495.6 L635.5,495.6 L636.0,495.6 L636.5,495.6 L637.0,495.6 L637.5,495.6 L638.0,495.6 L638.5,495.6 L639.0,495.6 L639.5,495.6 L640.0,495.6 L640.5,495.6 L641.0,495.6 L641.5,495.6 L642.0,495.6 L642.5,495.6 L643.0,495.6 L643.5,495.6 L644.0,495.6 L644.5,495.7 L645.0,495.7 L645.5,495.7 L646.0,495.7 L646.5,495.7 L647.0,495.7 L647.5,495.7 L648.0,495.7 L648.5,495.7 L649.0,495.7 L649.5,495.7 L650.0,495.7 L650.5,495.7 L651.0,495.7 L651.5,495.7 L652.0,495.7 L652.5,495.7 L653.0,495.7 L653.5,495.7 L654.0,495.7 L654.5,495.7 L655.0,495.7 L655.5,495.7 L656.0,495.7 L656.5,495.7 L657.0,495.7 L657.5,495.7 L658.0,495.7 L658.5,495.7 L659.0,495.7 L659.5,495.7 L660.0,495.7 L660.5,495.7 L661.0,495.7 L661.5,495.7" stroke="#2424ea" stroke-width="2.0"/>
<path d="M54.5,311.3 L55.0,310.5 L55.5,309.7 L56.0,309.0 L56.5,308.2 L57.0,307.4 L57.5,306.6 L58.0,305.8 L58.5,305.0 L59.0,304.2 L59.5,303.5 L60.0,302.7 L60.5,301.9 L61.0,301.1 L61.5,300.3 L62.0,299.5 L62.5,298.7 L63.0,297.9 L63.5,297.1 L64.0,296.2 L64.5,295.4 L65.0,294.5 L65.5,293.6 L66.0,292.8 L66.5,291.9 L67.0,291.0 L67.5,290.2 L68.0,289.3 L68.5,288.5 L69.0,287.7 L69.5,286.9 L70.0,286.1 L70.5,285.3 L71.0,284.5 L71.5,283.8 L72.0,283.1 L72.5,282.4 L73.0,281.8 L73.5,281.1 L74.0,280.5 L74.5,279.9 L75.0,279.2 L75.5,278.6 L76.0,278.0 L76.5,277.4 L77.0,276.9 L77.5,276.3 L78.0,275.7 L78.5,275.2 L79.0,274.7 L79.5,274.2 L80.0,273.7 L80.5,273.2 L81.0,272.7 L81.5,272.3 L82.0,271.9 L82.5,271.5 L83.0,271.1 L83.5,270.7 L84.0,270.4 L84.5,270.0 L85.0,269.6 L85.5,269.3 L86.0,269.0 L86.5,268.6 L87.0,268.3 L87.5,268.0 L88.0,267.7 L88.5,267.4 L89.0,267.1 L89.5,266.9 L90.0,266.6 L90.5,266.3 L91.0,266.1 L91.5,265.9 L92.0,265.6 L92.5,265.4 L93.0,265.2 L93.5,265.0 L94.0,264.8 L94.5,264.6 L95.0,264.4 L95.5,264.2 L96.0,264.0 L96.5,263.9 L97.0,263.7 L97.5,263.5 L98.0,263.3 L98.5,263.1 L99.0,263.0 L99.5,262.8 L100.0,262.7 L100.5,262.5 L101.0,262.4 L101.5,262.3 L102.0,262.2 L102.5,262.0 L103.0,261.9 L103.5,261.9 L104.0,261.8 L104.5,261.7 L105.0,261.7 L105.5,261.6 L106.0,261.6 L106.5,261.5 L107.0,261.5 L107.5,261.4 L108.0,261.4 L108.5,261.3 L109.0,261.3 L109.5,261.3 L110.0,261.2 L110.5,261.2 L111.0,261.2 L111.5,261.1 L112.0,261.1 L112.5,261.1 L113.0,261.1 L113.5,261.0 L114.0,261.0 L114.5,261.0 L115.0,261.0 L115.5,261.0 L116.0,261.0 L116.5,261.0 L117.0,261.0 L117.5,261.1 L118.0,261.2 L118.5,261.4 L119.0,261.6 L119.5,261.8 L120.0,262.0 L120.5,262.2 L121.0,262.5 L121.5,262.7 L122.0,263.0 L122.5,263.3 L123.0,263.5 L123.5,263.8 L124.0,264.1 L124.5,264.3 L125.0,264.6 L125.5,264.8 L126.0,265.1 L126.5,265.3 L127.0,265.6 L127.5,265.8 L128.0,266.1 L128.5,266.3 L129.0,266.6 L129.5,266.9 L130.0,267.1 L130.5,267.4 L131.0,267.7 L131.5,268.0 L132.0,268.3 L132.5,268.5 L133.0,268.8 L133.5,269.1 L134.0,269.4 L134.5,269.7 L135.0,270.0 L135.5,270.3 L136.0,270.5 L136.5,270.8 L137.0,271.1 L137.5,271.4 L138.0,271.7 L138.5,272.0 L139.0,272.3 L139.5,272.6 L140.0,272.9 L140.5,273.1 L141.0,273.4 L141.5,273.7 L142.0,274.0 L142.5,274.3 L143.0,274.6 L143.5,274.9 L144.0,275.3 L144.5,275.6 L145.0,275.9 L145.5,276.2 L146.0,276.5 L146.5,276.8 L147.0,277.1 L147.5,277.4 L148.0,277.8 L148.5,278.1 L149.0,278.4 L149.5,278.7 L150.0,279.1 L150.5,279.4 L151.0,279.7 L151.5,280.1 L152.0,280.4 L152.5,280.7 L153.0,281.1 L153.5,281.4 L154.0,281.8 L154.5,282.1 L155.0,282.5 L155.5,282.8 L156.0,283.2 L156.5,283.5 L157.0,283.9 L157.5,284.3 L158.0,284.6 L158.5,285.0 L159.0,285.4 L159.5,285.7 L160.0,286.1 L160.5,286.5 L161.0,286.9 L161.5,287.2 L162.0,287.6 L162.5,288.0 L163.0,288.4 L163.5,288.8 L164.0,289.2 L164.5,289.6 L165.0,290.0 L165.5,290.4 L166.0,290.8 L166.5,291.2 L167.0,291.6 L167.5,292.0 L168.0,292.5 L168.5,292.9 L169.0,293.3 L169.5,293.7 L170.0,294.1 L170.5,294.6 L171.0,295.0 L171.5,295.4 L172.0,295.9 L172.5,296.3 L173.0,296.8 L173.5,297.2 L174.0,297.6 L174.5,298.1 L175.0,298.5 L175.5,299.0 L176.0,299.5 L176.5,299.9 L177.0,300.4 L177.5,300.9 L178.0,301.3 L178.5,301.8 L179.0,302.3 L179.5,302.8 L180.0,303.3 L180.5,303.8 L181.0,304.3 L181.5,304.8 L182.0,305.3 L182.5,305.8 L183.0,306.3 L183.5,306.8 L184.0,307.3 L184.5,307.8 L185.0,308.3 L185.5,308.8 L186.0,309.3 L186.5,309.8 L187.0,310.3 L187.5,310.8 L188.0,311.4 L188.5,311.9 L189.0,312.4 L189.5,312.9 L190.0,313.4 L190.5,313.9 L191.0,314.4 L191.5,314.9 L192.0,315.5 L192.5,316.0 L193.0,316.5 L193.5,317.0 L194.0,317.6 L194.5,318.1 L195.0,318.6 L195.5,319.1 L196.0,319.7 L196.5,320.2 L197.0,320.7 L197.5,321.3 L198.0,321.8 L198.5,322.3 L199.0,322.9 L199.5,323.4 L200.0,323.9 L200.5,324.4 L201.0,325.0 L201.5,325.5 L202.0,326.0 L202.5,326.5 L203.0,327.0 L203.5,327.6 L204.0,328.1 L204.5,328.6 L205.0,329.1 L205.5,329.6 L206.0,330.1 L206.5,330.6 L207.0,331.0 L207.5,331.5 L208.0,332.0 L208.5,332.5 L209.0,332.9 L209.5,333.4 L210.0,333.9 L210.5,334.3 L211.0,334.8 L211.5,335.2 L212.0,335.7 L212.5,336.2 L213.0,336.6 L213.5,337.1 L214.0,337.5 L214.5,338.0 L215.0,338.5 L215.5,338.9 L216.0,339.4 L216.5,339.9 L217.0,340.4 L217.5,340.9 L218.0,341.3 L218.5,341.8 L219.0,342.3 L219.5,342.9 L220.0,343.4 L220.5,343.9 L221.0,344.4 L221.5,345.0 L222.0,345.5 L222.5,346.1 L223.0,346.7 L223.5,347.3 L224.0,347.9 L224.5,348.5 L225.0,349.1 L225.5,349.7 L226.0,350.4 L226.5,351.0 L227.0,351.6 L227.5,352.3 L228.0,352.9 L228.5,353.5 L229.0,354.2 L229.5,354.8 L230.0,355.4 L230.5,356.1 L231.0,356.7 L231.5,357.3 L232.0,357.9 L232.5,358.5 L233.0,359.1 L233.5,359.6 L234.0,360.2 L234.5,360.7 L235.0,361.2 L235.5,361.8 L236.0,362.3 L236.5,362.8 L237.0,363.3 L237.5,363.8 L238.0,364.4 L238.5,364.9 L239.0,365.4 L239.5,365.9 L240.0,366.4 L240.5,366.9 L241.0,367.4 L241.5,367.9 L242.0,368.4 L242.5,368.9 L243.0,369.4 L243.5,369.9 L244.0,370.3 L244.5,370.8 L245.0,371.3 L245.5,371.7 L246.0,372.2 L246.5,372.6 L247.0,373.0 L247.5,373.4 L248.0,373.8 L248.5,374.2 L249.0,374.6 L249.5,375.0 L250.0,375.4 L250.5,375.7 L251.0,376.1 L251.5,376.4 L252.0,376.7 L252.5,377.0 L253.0,377.3 L253.5,377.5 L254.0,377.8 L254.5,378.0 L255.0,378.2 L255.5,378.4 L256.0,378.6 L256.5,378.8 L257.0,379.0 L257.5,379.2 L258.0,379.4 L258.5,379.6 L259.0,379.9 L259.5,380.2 L260.0,380.5 L260.5,380.9 L261.0,381.3 L261.5,381.7 L262.0,382.2 L262.5,382.7 L263.0,383.3 L263.5,383.8 L264.0,384.4 L264.5,385.1 L265.0,385.7 L265.5,386.3 L266.0,386.9 L266.5,387.5 L267.0,388.2 L267.5,388.8 L268.0,389.3 L268.5,389.9 L269.0,390.6 L269.5,391.2 L270.0,391.8 L270.5,392.5 L271.0,393.1 L271.5,393.8 L272.0,394.4 L272.5,395.1 L273.0,395.7 L273.5,396.4 L274.0,397.0 L274.5,397.7 L275.0,398.3 L275.5,398.9 L276.0,399.5 L276.5,400.1 L277.0,400.7 L277.5,401.2 L278.0,401.8 L278.5,402.4 L279.0,403.1 L279.5,403.7 L280.0,404.4 L280.5,405.0 L281.0,405.7 L281.5,406.4 L282.0,407.0 L282.5,407.6 L283.0,408.2 L283.5,408.8 L284.0,409.3 L284.5,409.8 L285.0,410.2 L285.5,410.6 L286.0,410.9 L286.5,411.1 L287.0,411.2 L287.5,411.2 L288.0,411.2 L288.5,411.2 L289.0,411.2 L289.5,411.2 L290.0,411.2 L290.5,411.2 L291.0,411.2 L291.5,411.2 L292.0,411.2 L292.5,411.2 L293.0,411.2 L293.5,411.2 L294.0,411.2 L294.5,411.2 L295.0,411.2 L295.5,411.3 L296.0,411.3 L296.5,411.4 L297.0,411.6 L297.5,411.7 L298.0,411.9 L298.5,412.2 L299.0,412.4 L299.5,412.7 L300.0,413.0 L300.5,413.3 L301.0,413.6 L301.5,413.9 L302.0,414.4 L302.5,415.0 L303.0,415.7 L303.5,416.6 L304.0,417.4 L304.5,418.4 L305.0,419.3 L305.5,420.3 L306.0,421.2 L306.5,422.2 L307.0,423.0 L307.5,423.8 L308.0,424.5 L308.5,425.2 L309.0,425.9 L309.5,426.6 L310.0,427.3 L310.5,427.9 L311.0,428.6 L311.5,429.3 L312.0,430.0 L312.5,430.6 L313.0,431.2 L313.5,431.9 L314.0,432.5 L314.5,433.1 L315.0,433.6 L315.5,434.2 L316.0,434.7 L316.5,435.3 L317.0,435.8 L317.5,436.2 L318.0,436.7 L318.5,437.2 L319.0,437.6 L319.5,438.1 L320.0,438.5 L320.5,438.9 L321.0,439.3 L321.5,439.7 L322.0,440.1 L322.5,440.5 L323.0,440.9 L323.5,441.2 L324.0,441.6 L324.5,441.9 L325.0,442.3 L325.5,442.6 L326.0,442.9 L326.5,443.2 L327.0,443.5 L327.5,443.8 L328.0,444.0 L328.5,444.3 L329.0,444.6 L329.5,444.9 L330.0,445.2 L330.5,445.5 L331.0,445.7 L331.5,446.0 L332.0,446.3 L332.5,446.6 L333.0,446.8 L333.5,447.0 L334.0,447.2 L334.5,447.4 L335.0,447.6 L335.5,447.7 L336.0,447.8 L336.5,447.9 L337.0,448.0 L337.5,448.0 L338.0,448.0 L338.5,448.0 L339.0,448.0 L339.5,447.9 L340.0,447.9 L340.5,447.9 L341.0,447.8 L341.5,447.8 L342.0,447.7 L342.5,447.7 L343.0,447.6 L343.5,447.5 L344.0,447.4 L344.5,447.2 L345.0,446.9 L345.5,446.4 L346.0,445.8 L346.5,445.1 L347.0,444.3 L347.5,443.5 L348.0,442.6 L348.5,441.7 L349.0,440.8 L349.5,439.6 L350.0,438.3 L350.5,436.8 L351.0,435.0 L351.5,433.1 L352.0,431.1 L352.5,428.8 L353.0,426.4 L353.5,423.8 L354.0,421.1 L354.5,417.8 L355.0,413.9 L355.5,409.5 L356.0,404.6 L356.5,399.3 L357.0,393.6 L357.5,387.3 L358.0,379.4 L358.5,370.1 L359.0,359.1 L359.5,349.2 L360.0,339.9 L360.5,331.9 L361.0,324.3 L361.5,317.9 L362.0,313.4 L362.5,309.8 L363.0,306.9 L363.5,305.0 L364.0,303.7 L364.5,302.6 L365.0,301.8 L365.5,301.5 L366.0,301.9 L366.5,302.9 L367.0,304.4 L367.5,306.3 L368.0,309.8 L368.5,314.1 L369.0,319.0 L369.5,325.0 L370.0,331.3 L370.5,337.3 L371.0,343.0 L371.5,348.8 L372.0,355.0 L372.5,362.0 L373.0,369.5 L373.5,376.9 L374.0,384.2 L374.5,391.5 L375.0,398.6 L375.5,405.7 L376.0,412.8 L376.5,419.7 L377.0,425.9 L377.5,431.8 L378.0,437.6 L378.5,442.9 L379.0,447.0 L379.5,449.4 L380.0,451.4 L380.5,453.1 L381.0,454.5 L381.5,455.7 L382.0,456.7 L382.5,457.5 L383.0,458.0 L383.5,458.4 L384.0,458.8 L384.5,459.2 L385.0,459.5 L385.5,459.8 L386.0,460.0 L386.5,460.3 L387.0,460.4 L387.5,460.6 L388.0,460.7 L388.5,460.7 L389.0,460.7 L389.5,460.5 L390.0,460.2 L390.5,459.8 L391.0,459.3 L391.5,458.8 L392.0,458.1 L392.5,457.4 L393.0,456.7 L393.5,455.9 L394.0,454.8 L394.5,453.3 L395.0,451.3 L395.5,449.1 L396.0,446.7 L396.5,444.2 L397.0,441.9 L397.5,439.6 L398.0,437.4 L398.5,435.1 L399.0,432.6 L399.5,430.0 L400.0,427.1 L400.5,423.6 L401.0,419.5 L401.5,414.9 L402.0,410.1 L402.5,405.3 L403.0,400.7 L403.5,396.6 L404.0,393.1 L404.5,390.4 L405.0,387.8 L405.5,385.3 L406.0,383.0 L406.5,381.0 L407.0,379.4 L407.5,378.4 L408.0,378.0 L408.5,378.2 L409.0,378.7 L409.5,379.6 L410.0,380.7 L410.5,381.9 L411.0,383.2 L411.5,384.6 L412.0,386.4 L412.5,388.7 L413.0,391.4 L413.5,394.2 L414.0,397.0 L414.5,399.6 L415.0,402.3 L415.5,405.1 L416.0,407.9 L416.5,410.7 L417.0,413.5 L417.5,416.1 L418.0,418.5 L418.5,420.7 L419.0,422.8 L419.5,424.8 L420.0,426.8 L420.5,428.7 L421.0,430.8 L421.5,432.9 L422.0,435.1 L422.5,437.4 L423.0,439.8 L423.5,442.1 L424.0,444.5 L424.5,446.7 L425.0,448.8 L425.5,450.7 L426.0,452.4 L426.5,454.0 L427.0,455.6 L427.5,457.1 L428.0,458.5 L428.5,459.9 L429.0,461.3 L429.5,462.6 L430.0,463.8 L430.5,465.0 L431.0,466.2 L431.5,467.3 L432.0,468.5 L432.5,469.6 L433.0,470.6 L433.5,471.6 L434.0,472.5 L434.5,473.2 L435.0,473.8 L435.5,474.4 L436.0,475.0 L436.5,475.5 L437.0,476.0 L437.5,476.5 L438.0,477.0 L438.5,477.4 L439.0,477.8 L439.5,478.2 L440.0,478.6 L440.5,479.0 L441.0,479.3 L441.5,479.7 L442.0,480.0 L442.5,480.4 L443.0,480.7 L443.5,481.0 L444.0,481.3 L444.5,481.6 L445.0,481.9 L445.5,482.1 L446.0,482.4 L446.5,482.6 L447.0,482.9 L447.5,483.1 L448.0,483.3 L448.5,483.5 L449.0,483.7 L449.5,483.9 L450.0,484.1 L450.5,484.2 L451.0,484.4 L451.5,484.6 L452.0,484.7 L452.5,484.9 L453.0,485.0 L453.5,485.2 L454.0,485.3 L454.5,485.4 L455.0,485.6 L455.5,485.7 L456.0,485.8 L456.5,485.9 L457.0,486.0 L457.5,486.1 L458.0,486.2 L458.5,486.2 L459.0,486.3 L459.5,486.4 L460.0,486.5 L460.5,486.6 L461.0,486.7 L461.5,486.7 L462.0,486.8 L462.5,486.8 L463.0,486.9 L463.5,486.9 L464.0,486.9 L464.5,486.9 L465.0,486.9 L465.5,486.8 L466.0,486.7 L466.5,486.6 L467.0,486.4 L467.5,486.3 L468.0,486.1 L468.5,485.9 L469.0,485.8 L469.5,485.7 L470.0,485.6 L470.5,485.5 L471.0,485.4 L471.5,485.4 L472.0,485.4 L472.5,485.5 L473.0,485.5 L473.5,485.6 L474.0,485.7 L474.5,485.8 L475.0,485.9 L475.5,486.0 L476.0,486.1 L476.5,486.2 L477.0,486.4 L477.5,486.7 L478.0,487.0 L478.5,487.2 L479.0,487.5 L479.5,487.8 L480.0,488.1 L480.5,488.3 L481.0,488.5 L481.5,488.7 L482.0,488.8 L482.5,489.0 L483.0,489.1 L483.5,489.3 L484.0,489.4 L484.5,489.5 L485.0,489.6 L485.5,489.7 L486.0,489.8 L486.5,489.9 L487.0,490.0 L487.5,490.1 L488.0,490.2 L488.5,490.3 L489.0,490.4 L489.5,490.5 L490.0,490.5 L490.5,490.6 L491.0,490.7 L491.5,490.7 L492.0,490.8 L492.5,490.9 L493.0,490.9 L493.5,491.0 L494.0,491.1 L494.5,491.1 L495.0,491.2 L495.5,491.2 L496.0,491.3 L496.5,491.4 L497.0,491.4 L497.5,491.5 L498.0,491.5 L498.5,491.6 L499.0,491.6 L499.5,491.7 L500.0,491.7 L500.5,491.8 L501.0,491.8 L501.5,491.9 L502.0,491.9 L502.5,491.9 L503.0,492.0 L503.5,492.0 L504.0,492.0 L504.5,492.1 L505.0,492.1 L505.5,492.2 L506.0,492.2 L506.5,492.2 L507.0,492.2 L507.5,492.3 L508.0,492.3 L508.5,492.3 L509.0,492.3 L509.5,492.4 L510.0,492.4 L510.5,492.4 L511.0,492.4 L511.5,492.4 L512.0,492.4 L512.5,492.4 L513.0,492.5 L513.5,492.5 L514.0,492.5 L514.5,492.5 L515.0,492.5 L515.5,492.6 L516.0,492.6 L516.5,492.7 L517.0,492.7 L517.5,492.7 L518.0,492.8 L518.5,492.8 L519.0,492.9 L519.5,492.9 L520.0,493.0 L520.5,493.0 L521.0,493.1 L521.5,493.1 L522.0,493.2 L522.5,493.2 L523.0,493.3 L523.5,493.3 L524.0,493.4 L524.5,493.4 L525.0,493.5 L525.5,493.5 L526.0,493.5 L526.5,493.6 L527.0,493.6 L527.5,493.6 L528.0,493.6 L528.5,493.6 L529.0,493.6 L529.5,493.5 L530.0,493.5 L530.5,493.3 L531.0,493.2 L531.5,493.0 L532.0,492.8 L532.5,492.6 L533.0,492.4 L533.5,492.2 L534.0,491.9 L534.5,491.6 L535.0,491.3 L535.5,490.8 L536.0,490.2 L536.5,489.6 L537.0,488.9 L537.5,488.2 L538.0,487.4 L538.5,486.6 L539.0,485.8 L539.5,485.1 L540.0,484.3 L540.5,483.5 L541.0,482.8 L541.5,481.9 L542.0,481.1 L542.5,480.3 L543.0,479.4 L543.5,478.5 L544.0,477.6 L544.5,476.6 L545.0,475.7 L545.5,474.7 L546.0,473.7 L546.5,472.7 L547.0,471.6 L547.5,470.4 L548.0,469.3 L548.5,468.1 L549.0,466.9 L549.5,465.8 L550.0,464.6 L550.5,463.4 L551.0,462.3 L551.5,461.2 L552.0,460.0 L552.5,458.9 L553.0,457.7 L553.5,456.5 L554.0,455.3 L554.5,454.2 L555.0,453.1 L555.5,452.0 L556.0,451.1 L556.5,450.2 L557.0,449.4 L557.5,448.8 L558.0,448.1 L558.5,447.4 L559.0,446.8 L559.5,446.3 L560.0,445.9 L560.5,445.7 L561.0,445.7 L561.5,445.9 L562.0,446.2 L562.5,446.6 L563.0,447.1 L563.5,447.6 L564.0,448.2 L564.5,448.9 L565.0,449.9 L565.5,451.3 L566.0,452.9 L566.5,454.7 L567.0,456.6 L567.5,458.5 L568.0,460.4 L568.5,462.3 L569.0,464.3 L569.5,466.5 L570.0,468.7 L570.5,470.8 L571.0,472.8 L571.5,474.7 L572.0,476.5 L572.5,478.3 L573.0,480.0 L573.5,481.7 L574.0,483.3 L574.5,484.6 L575.0,485.7 L575.5,486.7 L576.0,487.6 L576.5,488.5 L577.0,489.4 L577.5,490.1 L578.0,490.8 L578.5,491.4 L579.0,491.9 L579.5,492.3 L580.0,492.5 L580.5,492.7 L581.0,492.8 L581.5,492.9 L582.0,493.0 L582.5,493.2 L583.0,493.3 L583.5,493.4 L584.0,493.5 L584.5,493.6 L585.0,493.7 L585.5,493.8 L586.0,493.9 L586.5,494.0 L587.0,494.0 L587.5,494.1 L588.0,494.2 L588.5,494.2 L589.0,494.3 L589.5,494.4 L590.0,494.4 L590.5,494.5 L591.0,494.5 L591.5,494.6 L592.0,494.6 L592.5,494.7 L593.0,494.7 L593.5,494.7 L594.0,494.8 L594.5,494.8 L595.0,494.8 L595.5,494.8 L596.0,494.9 L596.5,494.9 L597.0,494.9 L597.5,494.9 L598.0,494.9 L598.5,494.9 L599.0,495.0 L599.5,495.0 L600.0,495.0 L600.5,495.0 L601.0,495.0 L601.5,495.0 L602.0,495.0 L602.5,495.0 L603.0,495.1 L603.5,495.1 L604.0,495.1 L604.5,495.1 L605.0,495.1 L605.5,495.1 L606.0,495.1 L606.5,495.1 L607.0,495.1 L607.5,495.2 L608.0,495.2 L608.5,495.2 L609.0,495.2 L609.5,495.2 L610.0,495.2 L610.5,495.2 L611.0,495.2 L611.5,495.2 L612.0,495.2 L612.5,495.3 L613.0,495.3 L613.5,495.3 L614.0,495.3 L614.5,495.3 L615.0,495.3 L615.5,495.3 L616.0,495.3 L616.5,495.3 L617.0,495.3 L617.5,495.3 L618.0,495.4 L618.5,495.4 L619.0,495.4 L619.5,495.4 L620.0,495.4 L620.5,495.4 L621.0,495.4 L621.5,495.4 L622.0,495.4 L622.5,495.4 L623.0,495.4 L623.5,495.4 L624.0,495.4 L624.5,495.5 L625.0,495.5 L625.5,495.5 L626.0,495.5 L626.5,495.5 L627.0,495.5 L627.5,495.5 L628.0,495.5 L628.5,495.5 L629.0,495.5 L629.5,495.5 L630.0,495.5 L630.5,495.5 L631.0,495.5 L631.5,495.5 L632.0,495.5 L632.5,495.6 L633.0,495.6 L633.5,495.6 L634.0,495.6 L634.5,495.6 L635.0,495.6 L635.5,495.6 L636.0,495.6 L636.5,495.6 L637.0,495.6 L637.5,495.6 L638.0,495.6 L638.5,495.6 L639.0,495.6 L639.5,495.6 L640.0,495.6 L640.5,495.6 L641.0,495.6 L641.5,495.6 L642.0,495.6 L642.5,495.6 L643.0,495.6 L643.5,495.6 L644.0,495.6 L644.5,495.7 L645.0,495.7 L645.5,495.7 L646.0,495.7 L646.5,495.7 L647.0,495.7 L647.5,495.7 L648.0,495.7 L648.5,495.7 L649.0,495.7 L649.5,495.7 L650.0,495.7 L650.5,495.7 L651.0,495.7 L651.5,495.7 L652.0,495.7 L652.5,495.7 L653.0,495.7 L653.5,495.7 L654.0,495.7 L654.5,495.7 L655.0,495.7 L655.5,495.7 L656.0,495.7 L656.5,495.7 L657.0,495.7 L657.5,495.7 L658.0,495.7 L658.5,495.7 L659.0,495.7 L659.5,495.7 L660.0,495.7 L660.5,495.7 L661.0,495.7 L661.5,495.7" stroke="#ff00ff" stroke-width="2.0"/>
<path d="M54.5,133.4 L55.0,132.1 L55.5,130.8 L56.0,129.5 L56.5,128.2 L57.0,126.9 L57.5,125.6 L58.0,124.4 L58.5,123.1 L59.0,121.8 L59.5,120.5 L60.0,119.3 L60.5,118.0 L61.0,116.7 L61.5,115.5 L62.0,114.2 L62.5,113.0 L63.0,111.8 L63.5,110.6 L64.0,109.4 L64.5,108.2 L65.0,107.1 L65.5,105.9 L66.0,104.8 L66.5,103.6 L67.0,102.5 L67.5,101.5 L68.0,100.4 L68.5,99.4 L69.0,98.5 L69.5,97.5 L70.0,96.5 L70.5,95.6 L71.0,94.6 L71.5,93.7 L72.0,92.8 L72.5,91.9 L73.0,91.1 L73.5,90.3 L74.0,89.5 L74.5,88.7 L75.0,87.9 L75.5,87.2 L76.0,86.5 L76.5,85.8 L77.0,85.1 L77.5,84.4 L78.0,83.8 L78.5,83.1 L79.0,82.5 L79.5,81.9 L80.0,81.3 L80.5,80.7 L81.0,80.2 L81.5,79.6 L82.0,79.1 L82.5,78.6 L83.0,78.2 L83.5,77.7 L84.0,77.3 L84.5,76.8 L85.0,76.4 L85.5,76.0 L86.0,75.6 L86.5,75.2 L87.0,74.8 L87.5,74.5 L88.0,74.1 L88.5,73.8 L89.0,73.5 L89.5,73.2 L90.0,73.0 L90.5,72.7 L91.0,72.5 L91.5,72.2 L92.0,72.0 L92.5,71.7 L93.0,71.5 L93.5,71.3 L94.0,71.1 L94.5,70.9 L95.0,70.7 L95.5,70.6 L96.0,70.5 L96.5,70.4 L97.0,70.4 L97.5,70.3 L98.0,70.3 L98.5,70.3 L99.0,70.3 L99.5,70.2 L100.0,70.2 L100.5,70.2 L101.0,70.2 L101.5,70.2 L102.0,70.1 L102.5,70.1 L103.0,70.1 L103.5,70.1 L104.0,70.1 L104.5,70.1 L105.0,70.2 L105.5,70.3 L106.0,70.4 L106.5,70.5 L107.0,70.6 L107.5,70.8 L108.0,70.9 L108.5,71.1 L109.0,71.3 L109.5,71.5 L110.0,71.7 L110.5,71.9 L111.0,72.1 L111.5,72.3 L112.0,72.5 L112.5,72.7 L113.0,73.0 L113.5,73.2 L114.0,73.5 L114.5,73.8 L115.0,74.1 L115.5,74.4 L116.0,74.8 L116.5,75.1 L117.0,75.4 L117.5,75.8 L118.0,76.1 L118.5,76.5 L119.0,76.9 L119.5,77.2 L120.0,77.6 L120.5,78.1 L121.0,78.5 L121.5,78.9 L122.0,79.4 L122.5,79.8 L123.0,80.3 L123.5,80.8 L124.0,81.3 L124.5,81.8 L125.0,82.3 L125.5,82.8 L126.0,83.3 L126.5,83.8 L127.0,84.4 L127.5,84.9 L128.0,85.5 L128.5,86.1 L129.0,86.7 L129.5,87.3 L130.0,87.9 L130.5,88.5 L131.0,89.1 L131.5,89.8 L132.0,90.4 L132.5,91.0 L133.0,91.7 L133.5,92.3 L134.0,93.0 L134.5,93.6 L135.0,94.3 L135.5,95.0 L136.0,95.7 L136.5,96.3 L137.0,97.0 L137.5,97.7 L138.0,98.4 L138.5,99.1 L139.0,99.8 L139.5,100.5 L140.0,101.2 L140.5,101.8 L141.0,102.5 L141.5,103.2 L142.0,103.9 L142.5,104.6 L143.0,105.3 L143.5,106.0 L144.0,106.7 L144.5,107.4 L145.0,108.1 L145.5,108.8 L146.0,109.5 L146.5,110.2 L147.0,110.9 L147.5,111.6 L148.0,112.3 L148.5,112.9 L149.0,113.6 L149.5,114.3 L150.0,114.9 L150.5,115.6 L151.0,116.2 L151.5,116.9 L152.0,117.5 L152.5,118.1 L153.0,118.7 L153.5,119.4 L154.0,120.0 L154.5,120.6 L155.0,121.2 L155.5,121.8 L156.0,122.4 L156.5,123.1 L157.0,123.7 L157.5,124.3 L158.0,124.9 L158.5,125.5 L159.0,126.1 L159.5,126.8 L160.0,127.4 L160.5,128.1 L161.0,128.7 L161.5,129.3 L162.0,130.0 L162.5,130.6 L163.0,131.2 L163.5,131.8 L164.0,132.5 L164.5,133.1 L165.0,133.8 L165.5,134.4 L166.0,135.1 L166.5,135.7 L167.0,136.4 L167.5,137.0 L168.0,137.7 L168.5,138.4 L169.0,139.1 L169.5,139.8 L170.0,140.5 L170.5,141.2 L171.0,141.9 L171.5,142.6 L172.0,143.4 L172.5,144.1 L173.0,144.9 L173.5,145.7 L174.0,146.4 L174.5,147.2 L175.0,148.0 L175.5,148.8 L176.0,149.6 L176.5,150.4 L177.0,151.2 L177.5,152.0 L178.0,152.8 L178.5,153.7 L179.0,154.5 L179.5,155.3 L180.0,156.1 L180.5,156.9 L181.0,157.8 L181.5,158.6 L182.0,159.4 L182.5,160.3 L183.0,161.1 L183.5,162.0 L184.0,162.9 L184.5,163.7 L185.0,164.6 L185.5,165.5 L186.0,166.3 L186.5,167.2 L187.0,168.1 L187.5,169.0 L188.0,169.8 L188.5,170.7 L189.0,171.6 L189.5,172.5 L190.0,173.4 L190.5,174.3 L191.0,175.1 L191.5,176.0 L192.0,176.9 L192.5,177.8 L193.0,178.6 L193.5,179.5 L194.0,180.4 L194.5,181.2 L195.0,182.1 L195.5,182.9 L196.0,183.8 L196.5,184.6 L197.0,185.5 L197.5,186.3 L198.0,187.2 L198.5,188.0 L199.0,188.9 L199.5,189.7 L200.0,190.6 L200.5,191.4 L201.0,192.2 L201.5,193.1 L202.0,193.9 L202.5,194.8 L203.0,195.6 L203.5,196.4 L204.0,197.3 L204.5,198.1 L205.0,198.9 L205.5,199.8 L206.0,200.6 L206.5,201.4 L207.0,202.3 L207.5,203.1 L208.0,203.9 L208.5,204.8 L209.0,205.6 L209.5,206.5 L210.0,207.3 L210.5,208.1 L211.0,209.0 L211.5,209.8 L212.0,210.6 L212.5,211.5 L213.0,212.3 L213.5,213.1 L214.0,214.0 L214.5,214.8 L215.0,215.6 L215.5,216.5 L216.0,217.3 L216.5,218.1 L217.0,219.0 L217.5,219.8 L218.0,220.6 L218.5,221.5 L219.0,222.3 L219.5,223.2 L220.0,224.0 L220.5,224.9 L221.0,225.7 L221.5,226.5 L222.0,227.4 L222.5,228.2 L223.0,229.1 L223.5,230.0 L224.0,230.8 L224.5,231.7 L225.0,232.5 L225.5,233.4 L226.0,234.2 L226.5,235.1 L227.0,236.0 L227.5,236.8 L228.0,237.7 L228.5,238.5 L229.0,239.4 L229.5,240.3 L230.0,241.1 L230.5,242.0 L231.0,242.8 L231.5,243.7 L232.0,244.5 L232.5,245.4 L233.0,246.2 L233.5,247.1 L234.0,247.9 L234.5,248.8 L235.0,249.6 L235.5,250.5 L236.0,251.3 L236.5,252.2 L237.0,253.0 L237.5,253.8 L238.0,254.7 L238.5,255.5 L239.0,256.3 L239.5,257.1 L240.0,258.0 L240.5,258.8 L241.0,259.6 L241.5,260.4 L242.0,261.2 L242.5,262.0 L243.0,262.8 L243.5,263.6 L244.0,264.3 L244.5,265.1 L245.0,265.9 L245.5,266.7 L246.0,267.5 L246.5,268.2 L247.0,269.0 L247.5,269.8 L248.0,270.5 L248.5,271.3 L249.0,272.1 L249.5,272.8 L250.0,273.6 L250.5,274.4 L251.0,275.2 L251.5,275.9 L252.0,276.7 L252.5,277.5 L253.0,278.3 L253.5,279.1 L254.0,279.9 L254.5,280.7 L255.0,281.4 L255.5,282.2 L256.0,283.0 L256.5,283.8 L257.0,284.6 L257.5,285.4 L258.0,286.2 L258.5,286.9 L259.0,287.7 L259.5,288.5 L260.0,289.3 L260.5,290.1 L261.0,290.9 L261.5,291.7 L262.0,292.5 L262.5,293.4 L263.0,294.2 L263.5,295.0 L264.0,295.8 L264.5,296.7 L265.0,297.5 L265.5,298.3 L266.0,299.2 L266.5,300.1 L267.0,301.0 L267.5,301.9 L268.0,302.8 L268.5,303.7 L269.0,304.6 L269.5,305.5 L270.0,306.4 L270.5,307.3 L271.0,308.2 L271.5,309.1 L272.0,310.0 L272.5,310.9 L273.0,311.8 L273.5,312.7 L274.0,313.6 L274.5,314.5 L275.0,315.4 L275.5,316.2 L276.0,317.1 L276.5,317.9 L277.0,318.8 L277.5,319.6 L278.0,320.4 L278.5,321.3 L279.0,322.1 L279.5,323.0 L280.0,323.8 L280.5,324.6 L281.0,325.4 L281.5,326.2 L282.0,327.0 L282.5,327.8 L283.0,328.5 L283.5,329.3 L284.0,329.9 L284.5,330.6 L285.0,331.2 L285.5,331.9 L286.0,332.4 L286.5,333.0 L287.0,333.5 L287.5,334.0 L288.0,334.5 L288.5,335.0 L289.0,335.5 L289.5,336.0 L290.0,336.4 L290.5,336.9 L291.0,337.4 L291.5,337.9 L292.0,338.4 L292.5,338.9 L293.0,339.4 L293.5,340.0 L294.0,340.6 L294.5,341.2 L295.0,341.8 L295.5,342.4 L296.0,343.0 L296.5,343.6 L297.0,344.3 L297.5,344.9 L298.0,345.6 L298.5,346.3 L299.0,347.0 L299.5,347.7 L300.0,348.5 L300.5,349.3 L301.0,350.1 L301.5,351.0 L302.0,352.0 L302.5,352.9 L303.0,353.9 L303.5,354.9 L304.0,355.9 L304.5,356.9 L305.0,357.9 L305.5,358.9 L306.0,359.8 L306.5,360.8 L307.0,361.7 L307.5,362.5 L308.0,363.3 L308.5,364.1 L309.0,364.9 L309.5,365.6 L310.0,366.3 L310.5,367.1 L311.0,367.8 L311.5,368.5 L312.0,369.3 L312.5,370.0 L313.0,370.8 L313.5,371.5 L314.0,372.2 L314.5,373.0 L315.0,373.8 L315.5,374.5 L316.0,375.2 L316.5,376.0 L317.0,376.8 L317.5,377.5 L318.0,378.3 L318.5,379.0 L319.0,379.8 L319.5,380.6 L320.0,381.4 L320.5,382.2 L321.0,383.0 L321.5,383.7 L322.0,384.4 L322.5,385.0 L323.0,385.6 L323.5,386.1 L324.0,386.6 L324.5,387.1 L325.0,387.6 L325.5,388.1 L326.0,388.5 L326.5,389.0 L327.0,389.5 L327.5,390.0 L328.0,390.5 L328.5,391.1 L329.0,391.7 L329.5,392.2 L330.0,392.8 L330.5,393.3 L331.0,393.9 L331.5,394.4 L332.0,394.9 L332.5,395.5 L333.0,396.0 L333.5,396.6 L334.0,397.1 L334.5,397.6 L335.0,398.1 L335.5,398.6 L336.0,399.0 L336.5,399.4 L337.0,399.7 L337.5,400.0 L338.0,400.2 L338.5,400.5 L339.0,400.7 L339.5,400.9 L340.0,401.1 L340.5,401.3 L341.0,401.4 L341.5,401.5 L342.0,401.6 L342.5,401.7 L343.0,401.7 L343.5,401.7 L344.0,401.6 L344.5,401.5 L345.0,401.4 L345.5,401.2 L346.0,401.0 L346.5,400.7 L347.0,400.4 L347.5,400.1 L348.0,399.8 L348.5,399.4 L349.0,398.8 L349.5,397.7 L350.0,396.3 L350.5,394.4 L351.0,392.3 L351.5,390.0 L352.0,387.6 L352.5,384.8 L353.0,381.4 L353.5,377.3 L354.0,372.8 L354.5,368.0 L355.0,362.3 L355.5,356.2 L356.0,350.2 L356.5,344.1 L357.0,338.2 L357.5,332.9 L358.0,327.9 L358.5,323.1 L359.0,318.8 L359.5,315.0 L360.0,311.6 L360.5,308.5 L361.0,305.9 L361.5,304.0 L362.0,302.6 L362.5,301.4 L363.0,300.6 L363.5,300.2 L364.0,300.1 L364.5,300.1 L365.0,300.0 L365.5,300.0 L366.0,300.0 L366.5,300.0 L367.0,300.3 L367.5,300.9 L368.0,301.9 L368.5,303.0 L369.0,304.6 L369.5,307.1 L370.0,310.0 L370.5,313.2 L371.0,316.2 L371.5,319.3 L372.0,322.6 L372.5,326.1 L373.0,329.9 L373.5,334.1 L374.0,339.1 L374.5,345.1 L375.0,351.4 L375.5,357.3 L376.0,363.2 L376.5,368.9 L377.0,374.4 L377.5,379.9 L378.0,385.3 L378.5,390.4 L379.0,395.5 L379.5,400.7 L380.0,405.7 L380.5,410.5 L381.0,414.5 L381.5,417.7 L382.0,420.4 L382.5,422.9 L383.0,425.3 L383.5,427.4 L384.0,429.1 L384.5,430.5 L385.0,431.4 L385.5,432.1 L386.0,432.7 L386.5,433.3 L387.0,433.8 L387.5,434.1 L388.0,434.4 L388.5,434.5 L389.0,434.4 L389.5,434.2 L390.0,433.8 L390.5,433.3 L391.0,432.7 L391.5,432.0 L392.0,431.3 L392.5,430.4 L393.0,429.2 L393.5,427.6 L394.0,425.8 L394.5,423.7 L395.0,421.7 L395.5,419.7 L396.0,417.9 L396.5,416.0 L397.0,414.2 L397.5,412.2 L398.0,410.3 L398.5,408.4 L399.0,406.6 L399.5,404.8 L400.0,403.2 L400.5,401.7 L401.0,400.3 L401.5,398.9 L402.0,397.6 L402.5,396.3 L403.0,395.1 L403.5,393.9 L404.0,392.9 L404.5,392.0 L405.0,391.2 L405.5,390.5 L406.0,389.8 L406.5,389.2 L407.0,388.6 L407.5,388.1 L408.0,387.7 L408.5,387.4 L409.0,387.3 L409.5,387.4 L410.0,387.8 L410.5,388.4 L411.0,389.2 L411.5,390.0 L412.0,391.0 L412.5,392.0 L413.0,393.0 L413.5,394.1 L414.0,395.5 L414.5,397.1 L415.0,398.8 L415.5,400.5 L416.0,402.4 L416.5,404.2 L417.0,406.0 L417.5,407.8 L418.0,409.6 L418.5,411.5 L419.0,413.4 L419.5,415.3 L420.0,417.2 L420.5,419.0 L421.0,420.7 L421.5,422.3 L422.0,424.0 L422.5,425.6 L423.0,427.2 L423.5,428.9 L424.0,430.8 L424.5,432.7 L425.0,434.8 L425.5,437.0 L426.0,439.1 L426.5,441.0 L427.0,442.9 L427.5,444.8 L428.0,446.7 L428.5,448.5 L429.0,450.2 L429.5,451.6 L430.0,452.9 L430.5,454.0 L431.0,455.0 L431.5,456.0 L432.0,456.9 L432.5,457.7 L433.0,458.5 L433.5,459.2 L434.0,459.9 L434.5,460.6 L435.0,461.2 L435.5,461.9 L436.0,462.5 L436.5,463.0 L437.0,463.6 L437.5,464.1 L438.0,464.6 L438.5,465.1 L439.0,465.6 L439.5,466.1 L440.0,466.6 L440.5,467.0 L441.0,467.4 L441.5,467.9 L442.0,468.3 L442.5,468.7 L443.0,469.0 L443.5,469.4 L444.0,469.8 L444.5,470.1 L445.0,470.5 L445.5,470.8 L446.0,471.2 L446.5,471.5 L447.0,471.8 L447.5,472.1 L448.0,472.4 L448.5,472.7 L449.0,473.0 L449.5,473.3 L450.0,473.6 L450.5,473.9 L451.0,474.1 L451.5,474.4 L452.0,474.6 L452.5,474.8 L453.0,475.0 L453.5,475.3 L454.0,475.5 L454.5,475.7 L455.0,475.9 L455.5,476.1 L456.0,476.3 L456.5,476.5 L457.0,476.7 L457.5,476.8 L458.0,477.0 L458.5,477.2 L459.0,477.3 L459.5,477.5 L460.0,477.6 L460.5,477.7 L461.0,477.8 L461.5,477.9 L462.0,478.0 L462.5,478.1 L463.0,478.1 L463.5,478.2 L464.0,478.2 L464.5,478.3 L465.0,478.3 L465.5,478.4 L466.0,478.4 L466.5,478.5 L467.0,478.5 L467.5,478.6 L468.0,478.6 L468.5,478.7 L469.0,478.7 L469.5,478.8 L470.0,478.9 L470.5,479.0 L471.0,479.1 L471.5,479.3 L472.0,479.4 L472.5,479.6 L473.0,479.7 L473.5,479.9 L474.0,480.1 L474.5,480.3 L475.0,480.5 L475.5,480.6 L476.0,480.8 L476.5,481.0 L477.0,481.1 L477.5,481.3 L478.0,481.5 L478.5,481.7 L479.0,481.8 L479.5,482.0 L480.0,482.2 L480.5,482.4 L481.0,482.5 L481.5,482.7 L482.0,482.9 L482.5,483.0 L483.0,483.2 L483.5,483.4 L484.0,483.5 L484.5,483.7 L485.0,483.8 L485.5,483.9 L486.0,484.1 L486.5,484.2 L487.0,484.4 L487.5,484.5 L488.0,484.6 L488.5,484.8 L489.0,484.9 L489.5,485.0 L490.0,485.1 L490.5,485.3 L491.0,485.4 L491.5,485.5 L492.0,485.6 L492.5,485.7 L493.0,485.9 L493.5,486.0 L494.0,486.1 L494.5,486.2 L495.0,486.3 L495.5,486.4 L496.0,486.5 L496.5,486.5 L497.0,486.6 L497.5,486.7 L498.0,486.8 L498.5,486.9 L499.0,487.0 L499.5,487.1 L500.0,487.2 L500.5,487.2 L501.0,487.3 L501.5,487.4 L502.0,487.5 L502.5,487.6 L503.0,487.6 L503.5,487.7 L504.0,487.8 L504.5,487.8 L505.0,487.9 L505.5,488.0 L506.0,488.0 L506.5,488.1 L507.0,488.1 L507.5,488.2 L508.0,488.2 L508.5,488.3 L509.0,488.3 L509.5,488.4 L510.0,488.4 L510.5,488.4 L511.0,488.5 L511.5,488.5 L512.0,488.5 L512.5,488.6 L513.0,488.6 L513.5,488.6 L514.0,488.6 L514.5,488.7 L515.0,488.7 L515.5,488.7 L516.0,488.7 L516.5,488.8 L517.0,488.8 L517.5,488.8 L518.0,488.8 L518.5,488.8 L519.0,488.9 L519.5,488.9 L520.0,488.9 L520.5,488.9 L521.0,488.9 L521.5,489.0 L522.0,489.0 L522.5,489.0 L523.0,489.0 L523.5,489.0 L524.0,489.0 L524.5,489.0 L525.0,489.1 L525.5,489.1 L526.0,489.1 L526.5,489.1 L527.0,489.1 L527.5,489.1 L528.0,489.1 L528.5,489.1 L529.0,489.1 L529.5,489.0 L530.0,488.8 L530.5,488.6 L531.0,488.3 L531.5,488.0 L532.0,487.7 L532.5,487.4 L533.0,487.0 L533.5,486.7 L534.0,486.3 L534.5,485.9 L535.0,485.4 L535.5,484.9 L536.0,484.4 L536.5,483.8 L537.0,483.3 L537.5,482.7 L538.0,482.1 L538.5,481.5 L539.0,480.9 L539.5,480.3 L540.0,479.6 L540.5,478.9 L541.0,478.1 L541.5,477.4 L542.0,476.6 L542.5,475.8 L543.0,475.0 L543.5,474.2 L544.0,473.4 L544.5,472.6 L545.0,471.7 L545.5,470.8 L546.0,469.9 L546.5,469.0 L547.0,468.1 L547.5,467.1 L548.0,466.2 L548.5,465.3 L549.0,464.5 L549.5,463.7 L550.0,462.9 L550.5,462.2 L551.0,461.4 L551.5,460.7 L552.0,459.9 L552.5,459.2 L553.0,458.5 L553.5,457.9 L554.0,457.3 L554.5,456.7 L555.0,456.2 L555.5,455.8 L556.0,455.5 L556.5,455.2 L557.0,454.8 L557.5,454.6 L558.0,454.3 L558.5,454.1 L559.0,454.0 L559.5,454.0 L560.0,454.1 L560.5,454.3 L561.0,454.6 L561.5,455.0 L562.0,455.4 L562.5,455.9 L563.0,456.4 L563.5,457.0 L564.0,457.7 L564.5,458.8 L565.0,460.2 L565.5,461.8 L566.0,463.5 L566.5,465.2 L567.0,466.8 L567.5,468.3 L568.0,469.8 L568.5,471.4 L569.0,473.0 L569.5,474.6 L570.0,476.2 L570.5,477.6 L571.0,479.0 L571.5,480.2 L572.0,481.5 L572.5,482.7 L573.0,483.8 L573.5,485.0 L574.0,486.0 L574.5,486.9 L575.0,487.8 L575.5,488.4 L576.0,489.0 L576.5,489.5 L577.0,489.9 L577.5,490.3 L578.0,490.7 L578.5,491.1 L579.0,491.5 L579.5,491.7 L580.0,492.0 L580.5,492.2 L581.0,492.4 L581.5,492.5 L582.0,492.7 L582.5,492.8 L583.0,492.9 L583.5,493.0 L584.0,493.1 L584.5,493.2 L585.0,493.3 L585.5,493.4 L586.0,493.4 L586.5,493.5 L587.0,493.6 L587.5,493.7 L588.0,493.8 L588.5,493.8 L589.0,493.9 L589.5,494.0 L590.0,494.0 L590.5,494.1 L591.0,494.1 L591.5,494.2 L592.0,494.2 L592.5,494.3 L593.0,494.3 L593.5,494.3 L594.0,494.4 L594.5,494.4 L595.0,494.5 L595.5,494.5 L596.0,494.5 L596.5,494.5 L597.0,494.6 L597.5,494.6 L598.0,494.6 L598.5,494.6 L599.0,494.6 L599.5,494.7 L600.0,494.7 L600.5,494.7 L601.0,494.7 L601.5,494.7 L602.0,494.7 L602.5,494.8 L603.0,494.8 L603.5,494.8 L604.0,494.8 L604.5,494.8 L605.0,494.8 L605.5,494.9 L606.0,494.9 L606.5,494.9 L607.0,494.9 L607.5,494.9 L608.0,494.9 L608.5,494.9 L609.0,495.0 L609.5,495.0 L610.0,495.0 L610.5,495.0 L611.0,495.0 L611.5,495.0 L612.0,495.0 L612.5,495.1 L613.0,495.1 L613.5,495.1 L614.0,495.1 L614.5,495.1 L615.0,495.1 L615.5,495.1 L616.0,495.1 L616.5,495.2 L617.0,495.2 L617.5,495.2 L618.0,495.2 L618.5,495.2 L619.0,495.2 L619.5,495.2 L620.0,495.2 L620.5,495.3 L621.0,495.3 L621.5,495.3 L622.0,495.3 L622.5,495.3 L623.0,495.3 L623.5,495.3 L624.0,495.3 L624.5,495.3 L625.0,495.3 L625.5,495.4 L626.0,495.4 L626.5,495.4 L627.0,495.4 L627.5,495.4 L628.0,495.4 L628.5,495.4 L629.0,495.4 L629.5,495.4 L630.0,495.4 L630.5,495.4 L631.0,495.5 L631.5,495.5 L632.0,495.5 L632.5,495.5 L633.0,495.5 L633.5,495.5 L634.0,495.5 L634.5,495.5 L635.0,495.5 L635.5,495.5 L636.0,495.5 L636.5,495.5 L637.0,495.5 L637.5,495.5 L638.0,495.6 L638.5,495.6 L639.0,495.6 L639.5,495.6 L640.0,495.6 L640.5,495.6 L641.0,495.6 L641.5,495.6 L642.0,495.6 L642.5,495.6 L643.0,495.6 L643.5,495.6 L644.0,495.6 L644.5,495.6 L645.0,495.6 L645.5,495.6 L646.0,495.6 L646.5,495.6 L647.0,495.6 L647.5,495.6 L648.0,495.7 L648.5,495.7 L649.0,495.7 L649.5,495.7 L650.0,495.7 L650.5,495.7 L651.0,495.7 L651.5,495.7 L652.0,495.7 L652.5,495.7 L653.0,495.7 L653.5,495.7 L654.0,495.7 L654.5,495.7 L655.0,495.7 L655.5,495.7 L656.0,495.7 L656.5,495.7 L657.0,495.7 L657.5,495.7 L658.0,495.7 L658.5,495.7 L659.0,495.7 L659.5,495.7 L660.0,495.7 L660.5,495.7 L661.0,495.7 L661.5,495.7" stroke="#8c8c1a" stroke-width="1.85"/>
<path d="M54.5,113.5 L55.0,112.2 L55.5,111.0 L56.0,109.7 L56.5,108.4 L57.0,107.2 L57.5,105.9 L58.0,104.7 L58.5,103.4 L59.0,102.2 L59.5,101.0 L60.0,99.7 L60.5,98.5 L61.0,97.3 L61.5,96.1 L62.0,94.9 L62.5,93.6 L63.0,92.4 L63.5,91.1 L64.0,89.9 L64.5,88.7 L65.0,87.5 L65.5,86.3 L66.0,85.1 L66.5,84.0 L67.0,82.8 L67.5,81.8 L68.0,80.8 L68.5,79.8 L69.0,78.8 L69.5,77.9 L70.0,77.0 L70.5,76.1 L71.0,75.2 L71.5,74.4 L72.0,73.5 L72.5,72.7 L73.0,71.9 L73.5,71.2 L74.0,70.4 L74.5,69.7 L75.0,69.0 L75.5,68.3 L76.0,67.6 L76.5,67.0 L77.0,66.4 L77.5,65.7 L78.0,65.1 L78.5,64.5 L79.0,64.0 L79.5,63.4 L80.0,62.9 L80.5,62.4 L81.0,61.9 L81.5,61.5 L82.0,61.0 L82.5,60.6 L83.0,60.2 L83.5,59.7 L84.0,59.3 L84.5,58.9 L85.0,58.5 L85.5,58.1 L86.0,57.7 L86.5,57.4 L87.0,57.0 L87.5,56.7 L88.0,56.4 L88.5,56.2 L89.0,55.9 L89.5,55.7 L90.0,55.5 L90.5,55.3 L91.0,55.2 L91.5,55.0 L92.0,54.8 L92.5,54.6 L93.0,54.5 L93.5,54.3 L94.0,54.1 L94.5,54.0 L95.0,53.9 L95.5,53.7 L96.0,53.6 L96.5,53.5 L97.0,53.4 L97.5,53.3 L98.0,53.3 L98.5,53.2 L99.0,53.2 L99.5,53.2 L100.0,53.2 L100.5,53.2 L101.0,53.2 L101.5,53.3 L102.0,53.3 L102.5,53.4 L103.0,53.5 L103.5,53.6 L104.0,53.7 L104.5,53.8 L105.0,53.9 L105.5,54.0 L106.0,54.1 L106.5,54.2 L107.0,54.4 L107.5,54.5 L108.0,54.6 L108.5,54.8 L109.0,55.0 L109.5,55.2 L110.0,55.4 L110.5,55.6 L111.0,55.9 L111.5,56.2 L112.0,56.5 L112.5,56.9 L113.0,57.3 L113.5,57.6 L114.0,58.0 L114.5,58.5 L115.0,58.9 L115.5,59.3 L116.0,59.8 L116.5,60.2 L117.0,60.7 L117.5,61.2 L118.0,61.7 L118.5,62.3 L119.0,62.9 L119.5,63.6 L120.0,64.3 L120.5,65.0 L121.0,65.8 L121.5,66.6 L122.0,67.5 L122.5,68.5 L123.0,69.5 L123.5,70.6 L124.0,71.7 L124.5,72.8 L125.0,73.9 L125.5,74.9 L126.0,75.9 L126.5,76.9 L127.0,77.9 L127.5,78.9 L128.0,79.9 L128.5,80.9 L129.0,81.9 L129.5,82.8 L130.0,83.8 L130.5,84.7 L131.0,85.6 L131.5,86.5 L132.0,87.4 L132.5,88.3 L133.0,89.1 L133.5,90.0 L134.0,90.8 L134.5,91.7 L135.0,92.5 L135.5,93.3 L136.0,94.1 L136.5,94.9 L137.0,95.7 L137.5,96.5 L138.0,97.3 L138.5,98.1 L139.0,98.9 L139.5,99.7 L140.0,100.5 L140.5,101.4 L141.0,102.2 L141.5,103.0 L142.0,103.7 L142.5,104.5 L143.0,105.3 L143.5,106.1 L144.0,106.9 L144.5,107.7 L145.0,108.5 L145.5,109.3 L146.0,110.0 L146.5,110.8 L147.0,111.6 L147.5,112.4 L148.0,113.2 L148.5,114.0 L149.0,114.8 L149.5,115.7 L150.0,116.5 L150.5,117.3 L151.0,118.2 L151.5,119.0 L152.0,119.9 L152.5,120.7 L153.0,121.6 L153.5,122.5 L154.0,123.4 L154.5,124.3 L155.0,125.1 L155.5,126.0 L156.0,126.9 L156.5,127.8 L157.0,128.6 L157.5,129.5 L158.0,130.3 L158.5,131.2 L159.0,132.0 L159.5,132.8 L160.0,133.6 L160.5,134.4 L161.0,135.2 L161.5,135.9 L162.0,136.7 L162.5,137.4 L163.0,138.1 L163.5,138.8 L164.0,139.5 L164.5,140.2 L165.0,141.0 L165.5,141.7 L166.0,142.4 L166.5,143.1 L167.0,143.8 L167.5,144.5 L168.0,145.3 L168.5,146.0 L169.0,146.8 L169.5,147.6 L170.0,148.4 L170.5,149.2 L171.0,150.1 L171.5,150.9 L172.0,151.8 L172.5,152.6 L173.0,153.5 L173.5,154.4 L174.0,155.3 L174.5,156.2 L175.0,157.2 L175.5,158.1 L176.0,159.0 L176.5,160.0 L177.0,160.9 L177.5,161.9 L178.0,162.8 L178.5,163.8 L179.0,164.7 L179.5,165.7 L180.0,166.6 L180.5,167.6 L181.0,168.6 L181.5,169.5 L182.0,170.4 L182.5,171.4 L183.0,172.3 L183.5,173.3 L184.0,174.2 L184.5,175.2 L185.0,176.1 L185.5,177.1 L186.0,178.1 L186.5,179.0 L187.0,180.0 L187.5,181.0 L188.0,181.9 L188.5,182.9 L189.0,183.9 L189.5,184.8 L190.0,185.8 L190.5,186.8 L191.0,187.7 L191.5,188.7 L192.0,189.6 L192.5,190.6 L193.0,191.6 L193.5,192.5 L194.0,193.4 L194.5,194.4 L195.0,195.3 L195.5,196.2 L196.0,197.2 L196.5,198.1 L197.0,199.0 L197.5,200.0 L198.0,200.9 L198.5,201.8 L199.0,202.7 L199.5,203.7 L200.0,204.6 L200.5,205.5 L201.0,206.4 L201.5,207.3 L202.0,208.3 L202.5,209.2 L203.0,210.1 L203.5,211.0 L204.0,211.9 L204.5,212.8 L205.0,213.7 L205.5,214.6 L206.0,215.5 L206.5,216.4 L207.0,217.4 L207.5,218.3 L208.0,219.2 L208.5,220.1 L209.0,221.0 L209.5,221.9 L210.0,222.8 L210.5,223.6 L211.0,224.5 L211.5,225.4 L212.0,226.3 L212.5,227.2 L213.0,228.1 L213.5,229.0 L214.0,229.9 L214.5,230.8 L215.0,231.6 L215.5,232.5 L216.0,233.4 L216.5,234.3 L217.0,235.2 L217.5,236.0 L218.0,236.9 L218.5,237.8 L219.0,238.7 L219.5,239.5 L220.0,240.4 L220.5,241.3 L221.0,242.1 L221.5,243.0 L222.0,243.8 L222.5,244.7 L223.0,245.6 L223.5,246.4 L224.0,247.3 L224.5,248.1 L225.0,249.0 L225.5,249.8 L226.0,250.6 L226.5,251.5 L227.0,252.3 L227.5,253.2 L228.0,254.0 L228.5,254.8 L229.0,255.7 L229.5,256.5 L230.0,257.3 L230.5,258.1 L231.0,259.0 L231.5,259.8 L232.0,260.6 L232.5,261.4 L233.0,262.2 L233.5,263.1 L234.0,263.9 L234.5,264.7 L235.0,265.5 L235.5,266.3 L236.0,267.1 L236.5,267.9 L237.0,268.7 L237.5,269.5 L238.0,270.3 L238.5,271.2 L239.0,272.0 L239.5,272.8 L240.0,273.6 L240.5,274.4 L241.0,275.2 L241.5,276.0 L242.0,276.7 L242.5,277.5 L243.0,278.3 L243.5,279.1 L244.0,279.9 L244.5,280.7 L245.0,281.5 L245.5,282.3 L246.0,283.1 L246.5,283.9 L247.0,284.7 L247.5,285.5 L248.0,286.2 L248.5,287.0 L249.0,287.8 L249.5,288.6 L250.0,289.4 L250.5,290.1 L251.0,290.9 L251.5,291.7 L252.0,292.5 L252.5,293.2 L253.0,294.0 L253.5,294.8 L254.0,295.6 L254.5,296.4 L255.0,297.2 L255.5,298.0 L256.0,298.8 L256.5,299.6 L257.0,300.4 L257.5,301.2 L258.0,302.0 L258.5,302.9 L259.0,303.7 L259.5,304.5 L260.0,305.4 L260.5,306.2 L261.0,307.0 L261.5,307.9 L262.0,308.7 L262.5,309.6 L263.0,310.4 L263.5,311.3 L264.0,312.1 L264.5,313.0 L265.0,313.9 L265.5,314.7 L266.0,315.6 L266.5,316.4 L267.0,317.3 L267.5,318.2 L268.0,319.0 L268.5,319.9 L269.0,320.8 L269.5,321.6 L270.0,322.5 L270.5,323.4 L271.0,324.3 L271.5,325.1 L272.0,326.1 L272.5,327.0 L273.0,327.9 L273.5,328.8 L274.0,329.7 L274.5,330.6 L275.0,331.5 L275.5,332.4 L276.0,333.3 L276.5,334.2 L277.0,335.1 L277.5,336.0 L278.0,336.8 L278.5,337.6 L279.0,338.4 L279.5,339.2 L280.0,340.0 L280.5,340.7 L281.0,341.5 L281.5,342.2 L282.0,343.0 L282.5,343.7 L283.0,344.4 L283.5,345.1 L284.0,345.8 L284.5,346.5 L285.0,347.1 L285.5,347.8 L286.0,348.4 L286.5,349.0 L287.0,349.6 L287.5,350.2 L288.0,350.7 L288.5,351.2 L289.0,351.7 L289.5,352.2 L290.0,352.6 L290.5,353.0 L291.0,353.4 L291.5,353.8 L292.0,354.1 L292.5,354.5 L293.0,354.9 L293.5,355.2 L294.0,355.6 L294.5,356.0 L295.0,356.5 L295.5,357.0 L296.0,357.5 L296.5,358.1 L297.0,358.7 L297.5,359.3 L298.0,360.0 L298.5,360.7 L299.0,361.5 L299.5,362.3 L300.0,363.1 L300.5,363.9 L301.0,364.8 L301.5,365.7 L302.0,366.6 L302.5,367.5 L303.0,368.5 L303.5,369.6 L304.0,370.8 L304.5,372.1 L305.0,373.3 L305.5,374.6 L306.0,375.8 L306.5,376.9 L307.0,378.0 L307.5,379.0 L308.0,379.9 L308.5,380.9 L309.0,381.8 L309.5,382.7 L310.0,383.5 L310.5,384.4 L311.0,385.2 L311.5,386.0 L312.0,386.7 L312.5,387.5 L313.0,388.2 L313.5,388.9 L314.0,389.6 L314.5,390.3 L315.0,390.9 L315.5,391.5 L316.0,392.1 L316.5,392.8 L317.0,393.4 L317.5,394.0 L318.0,394.6 L318.5,395.2 L319.0,395.8 L319.5,396.4 L320.0,397.0 L320.5,397.6 L321.0,398.2 L321.5,398.8 L322.0,399.4 L322.5,400.0 L323.0,400.6 L323.5,401.2 L324.0,401.8 L324.5,402.4 L325.0,403.0 L325.5,403.6 L326.0,404.2 L326.5,404.8 L327.0,405.4 L327.5,405.9 L328.0,406.5 L328.5,407.0 L329.0,407.5 L329.5,408.0 L330.0,408.6 L330.5,409.1 L331.0,409.7 L331.5,410.2 L332.0,410.7 L332.5,411.2 L333.0,411.7 L333.5,412.1 L334.0,412.5 L334.5,412.9 L335.0,413.2 L335.5,413.5 L336.0,413.7 L336.5,414.0 L337.0,414.2 L337.5,414.4 L338.0,414.6 L338.5,414.8 L339.0,414.9 L339.5,415.1 L340.0,415.3 L340.5,415.4 L341.0,415.5 L341.5,415.6 L342.0,415.7 L342.5,415.7 L343.0,415.7 L343.5,415.7 L344.0,415.6 L344.5,415.4 L345.0,415.3 L345.5,415.1 L346.0,414.8 L346.5,414.5 L347.0,414.2 L347.5,413.8 L348.0,413.4 L348.5,413.0 L349.0,412.4 L349.5,411.5 L350.0,410.3 L350.5,408.8 L351.0,407.1 L351.5,405.3 L352.0,403.3 L352.5,401.1 L353.0,398.5 L353.5,395.4 L354.0,392.0 L354.5,388.3 L355.0,384.3 L355.5,380.0 L356.0,374.9 L356.5,368.5 L357.0,358.8 L357.5,349.6 L358.0,341.0 L358.5,333.7 L359.0,327.3 L359.5,321.5 L360.0,316.7 L360.5,312.7 L361.0,309.0 L361.5,306.0 L362.0,304.0 L362.5,302.6 L363.0,301.4 L363.5,300.6 L364.0,300.3 L364.5,300.3 L365.0,300.3 L365.5,300.3 L366.0,300.3 L366.5,300.6 L367.0,301.5 L367.5,302.6 L368.0,304.0 L368.5,305.9 L369.0,308.6 L369.5,311.7 L370.0,315.0 L370.5,318.4 L371.0,322.1 L371.5,326.1 L372.0,330.4 L372.5,335.0 L373.0,340.0 L373.5,345.6 L374.0,351.4 L374.5,357.4 L375.0,363.7 L375.5,370.0 L376.0,376.3 L376.5,382.6 L377.0,388.8 L377.5,394.7 L378.0,400.0 L378.5,404.9 L379.0,409.6 L379.5,414.1 L380.0,418.2 L380.5,421.9 L381.0,425.0 L381.5,427.8 L382.0,430.4 L382.5,432.9 L383.0,435.1 L383.5,437.1 L384.0,438.7 L384.5,440.0 L385.0,441.1 L385.5,442.2 L386.0,443.2 L386.5,444.1 L387.0,444.8 L387.5,445.4 L388.0,445.8 L388.5,446.0 L389.0,446.0 L389.5,445.9 L390.0,445.7 L390.5,445.4 L391.0,445.0 L391.5,444.6 L392.0,444.1 L392.5,443.6 L393.0,443.0 L393.5,442.4 L394.0,441.8 L394.5,441.1 L395.0,440.1 L395.5,438.8 L396.0,437.3 L396.5,435.5 L397.0,433.6 L397.5,431.6 L398.0,429.5 L398.5,427.5 L399.0,425.4 L399.5,423.0 L400.0,420.4 L400.5,417.6 L401.0,414.9 L401.5,412.2 L402.0,409.6 L402.5,407.3 L403.0,405.3 L403.5,403.5 L404.0,401.6 L404.5,399.9 L405.0,398.3 L405.5,396.9 L406.0,395.9 L406.5,395.2 L407.0,394.6 L407.5,394.2 L408.0,393.8 L408.5,393.5 L409.0,393.4 L409.5,393.7 L410.0,394.4 L410.5,395.4 L411.0,396.7 L411.5,398.1 L412.0,399.5 L412.5,401.1 L413.0,403.1 L413.5,405.3 L414.0,407.8 L414.5,410.4 L415.0,413.0 L415.5,415.9 L416.0,419.3 L416.5,422.8 L417.0,426.1 L417.5,429.0 L418.0,431.3 L418.5,433.3 L419.0,435.2 L419.5,436.9 L420.0,438.5 L420.5,440.1 L421.0,441.6 L421.5,443.2 L422.0,444.9 L422.5,446.5 L423.0,448.2 L423.5,449.9 L424.0,451.5 L424.5,453.1 L425.0,454.7 L425.5,456.1 L426.0,457.5 L426.5,458.7 L427.0,459.8 L427.5,460.8 L428.0,461.7 L428.5,462.6 L429.0,463.4 L429.5,464.2 L430.0,464.9 L430.5,465.6 L431.0,466.3 L431.5,467.0 L432.0,467.6 L432.5,468.2 L433.0,468.7 L433.5,469.2 L434.0,469.8 L434.5,470.3 L435.0,470.7 L435.5,471.2 L436.0,471.6 L436.5,472.1 L437.0,472.5 L437.5,472.8 L438.0,473.2 L438.5,473.5 L439.0,473.9 L439.5,474.2 L440.0,474.5 L440.5,474.8 L441.0,475.0 L441.5,475.3 L442.0,475.6 L442.5,475.8 L443.0,476.1 L443.5,476.3 L444.0,476.6 L444.5,476.8 L445.0,477.0 L445.5,477.2 L446.0,477.5 L446.5,477.7 L447.0,477.9 L447.5,478.1 L448.0,478.2 L448.5,478.4 L449.0,478.6 L449.5,478.8 L450.0,479.0 L450.5,479.1 L451.0,479.3 L451.5,479.5 L452.0,479.6 L452.5,479.8 L453.0,479.9 L453.5,480.1 L454.0,480.2 L454.5,480.4 L455.0,480.5 L455.5,480.6 L456.0,480.8 L456.5,480.9 L457.0,481.1 L457.5,481.2 L458.0,481.4 L458.5,481.5 L459.0,481.7 L459.5,481.8 L460.0,481.9 L460.5,482.1 L461.0,482.2 L461.5,482.3 L462.0,482.4 L462.5,482.5 L463.0,482.5 L463.5,482.6 L464.0,482.6 L464.5,482.6 L465.0,482.6 L465.5,482.6 L466.0,482.5 L466.5,482.5 L467.0,482.4 L467.5,482.4 L468.0,482.3 L468.5,482.3 L469.0,482.2 L469.5,482.2 L470.0,482.2 L470.5,482.1 L471.0,482.1 L471.5,482.1 L472.0,482.2 L472.5,482.3 L473.0,482.4 L473.5,482.6 L474.0,482.9 L474.5,483.1 L475.0,483.4 L475.5,483.6 L476.0,483.9 L476.5,484.1 L477.0,484.3 L477.5,484.4 L478.0,484.5 L478.5,484.7 L479.0,484.8 L479.5,484.9 L480.0,485.0 L480.5,485.2 L481.0,485.3 L481.5,485.4 L482.0,485.5 L482.5,485.6 L483.0,485.7 L483.5,485.8 L484.0,485.9 L484.5,486.0 L485.0,486.0 L485.5,486.1 L486.0,486.2 L486.5,486.3 L487.0,486.4 L487.5,486.5 L488.0,486.5 L488.5,486.6 L489.0,486.7 L489.5,486.8 L490.0,486.8 L490.5,486.9 L491.0,487.0 L491.5,487.0 L492.0,487.1 L492.5,487.2 L493.0,487.2 L493.5,487.3 L494.0,487.3 L494.5,487.4 L495.0,487.5 L495.5,487.5 L496.0,487.6 L496.5,487.6 L497.0,487.7 L497.5,487.8 L498.0,487.8 L498.5,487.9 L499.0,488.0 L499.5,488.0 L500.0,488.1 L500.5,488.2 L501.0,488.2 L501.5,488.3 L502.0,488.4 L502.5,488.4 L503.0,488.5 L503.5,488.6 L504.0,488.6 L504.5,488.7 L505.0,488.7 L505.5,488.8 L506.0,488.9 L506.5,488.9 L507.0,489.0 L507.5,489.0 L508.0,489.1 L508.5,489.2 L509.0,489.2 L509.5,489.3 L510.0,489.3 L510.5,489.4 L511.0,489.4 L511.5,489.5 L512.0,489.5 L512.5,489.5 L513.0,489.6 L513.5,489.6 L514.0,489.6 L514.5,489.7 L515.0,489.7 L515.5,489.7 L516.0,489.8 L516.5,489.8 L517.0,489.8 L517.5,489.8 L518.0,489.9 L518.5,489.9 L519.0,489.9 L519.5,489.9 L520.0,490.0 L520.5,490.0 L521.0,490.0 L521.5,490.0 L522.0,490.1 L522.5,490.1 L523.0,490.1 L523.5,490.1 L524.0,490.1 L524.5,490.1 L525.0,490.2 L525.5,490.2 L526.0,490.2 L526.5,490.2 L527.0,490.2 L527.5,490.2 L528.0,490.2 L528.5,490.2 L529.0,490.2 L529.5,490.1 L530.0,490.0 L530.5,489.9 L531.0,489.7 L531.5,489.5 L532.0,489.2 L532.5,488.9 L533.0,488.6 L533.5,488.3 L534.0,488.0 L534.5,487.6 L535.0,487.3 L535.5,486.9 L536.0,486.6 L536.5,486.1 L537.0,485.6 L537.5,485.1 L538.0,484.4 L538.5,483.8 L539.0,483.1 L539.5,482.3 L540.0,481.6 L540.5,480.8 L541.0,480.0 L541.5,479.2 L542.0,478.5 L542.5,477.7 L543.0,477.0 L543.5,476.2 L544.0,475.4 L544.5,474.5 L545.0,473.7 L545.5,472.8 L546.0,471.9 L546.5,471.0 L547.0,470.1 L547.5,469.3 L548.0,468.5 L548.5,467.7 L549.0,467.0 L549.5,466.3 L550.0,465.7 L550.5,465.1 L551.0,464.6 L551.5,464.1 L552.0,463.5 L552.5,463.0 L553.0,462.6 L553.5,462.1 L554.0,461.7 L554.5,461.4 L555.0,461.1 L555.5,460.8 L556.0,460.6 L556.5,460.3 L557.0,460.2 L557.5,460.0 L558.0,460.0 L558.5,460.1 L559.0,460.3 L559.5,460.6 L560.0,460.9 L560.5,461.4 L561.0,461.9 L561.5,462.4 L562.0,462.9 L562.5,463.6 L563.0,464.4 L563.5,465.5 L564.0,466.7 L564.5,467.9 L565.0,469.3 L565.5,470.6 L566.0,471.9 L566.5,473.1 L567.0,474.4 L567.5,475.7 L568.0,477.1 L568.5,478.5 L569.0,479.9 L569.5,481.2 L570.0,482.5 L570.5,483.6 L571.0,484.7 L571.5,485.8 L572.0,486.8 L572.5,487.9 L573.0,488.9 L573.5,489.8 L574.0,490.6 L574.5,491.2 L575.0,491.7 L575.5,492.2 L576.0,492.6 L576.5,492.9 L577.0,493.3 L577.5,493.5 L578.0,493.8 L578.5,494.0 L579.0,494.1 L579.5,494.2 L580.0,494.3 L580.5,494.4 L581.0,494.5 L581.5,494.5 L582.0,494.6 L582.5,494.6 L583.0,494.7 L583.5,494.8 L584.0,494.8 L584.5,494.9 L585.0,494.9 L585.5,494.9 L586.0,495.0 L586.5,495.0 L587.0,495.0 L587.5,495.1 L588.0,495.1 L588.5,495.1 L589.0,495.1 L589.5,495.1 L590.0,495.1 L590.5,495.2 L591.0,495.2 L591.5,495.2 L592.0,495.2 L592.5,495.2 L593.0,495.2 L593.5,495.2 L594.0,495.2 L594.5,495.2 L595.0,495.2 L595.5,495.2 L596.0,495.3 L596.5,495.3 L597.0,495.3 L597.5,495.3 L598.0,495.3 L598.5,495.3 L599.0,495.3 L599.5,495.3 L600.0,495.3 L600.5,495.3 L601.0,495.3 L601.5,495.3 L602.0,495.3 L602.5,495.3 L603.0,495.4 L603.5,495.4 L604.0,495.4 L604.5,495.4 L605.0,495.4 L605.5,495.4 L606.0,495.4 L606.5,495.4 L607.0,495.4 L607.5,495.4 L608.0,495.4 L608.5,495.4 L609.0,495.4 L609.5,495.4 L610.0,495.4 L610.5,495.4 L611.0,495.5 L611.5,495.5 L612.0,495.5 L612.5,495.5 L613.0,495.5 L613.5,495.5 L614.0,495.5 L614.5,495.5 L615.0,495.5 L615.5,495.5 L616.0,495.5 L616.5,495.5 L617.0,495.5 L617.5,495.5 L618.0,495.5 L618.5,495.5 L619.0,495.5 L619.5,495.5 L620.0,495.5 L620.5,495.5 L621.0,495.5 L621.5,495.6 L622.0,495.6 L622.5,495.6 L623.0,495.6 L623.5,495.6 L624.0,495.6 L624.5,495.6 L625.0,495.6 L625.5,495.6 L626.0,495.6 L626.5,495.6 L627.0,495.6 L627.5,495.6 L628.0,495.6 L628.5,495.6 L629.0,495.6 L629.5,495.6 L630.0,495.6 L630.5,495.6 L631.0,495.6 L631.5,495.6 L632.0,495.6 L632.5,495.6 L633.0,495.6 L633.5,495.6 L634.0,495.6 L634.5,495.6 L635.0,495.6 L635.5,495.6 L636.0,495.6 L636.5,495.6 L637.0,495.6 L637.5,495.7 L638.0,495.7 L638.5,495.7 L639.0,495.7 L639.5,495.7 L640.0,495.7 L640.5,495.7 L641.0,495.7 L641.5,495.7 L642.0,495.7 L642.5,495.7 L643.0,495.7 L643.5,495.7 L644.0,495.7 L644.5,495.7 L645.0,495.7 L645.5,495.7 L646.0,495.7 L646.5,495.7 L647.0,495.7 L647.5,495.7 L648.0,495.7 L648.5,495.7 L649.0,495.7 L649.5,495.7 L650.0,495.7 L650.5,495.7 L651.0,495.7 L651.5,495.7 L652.0,495.7 L652.5,495.7 L653.0,495.7 L653.5,495.7 L654.0,495.7 L654.5,495.7 L655.0,495.7 L655.5,495.7 L656.0,495.7 L656.5,495.7 L657.0,495.7 L657.5,495.7 L658.0,495.7 L658.5,495.7 L659.0,495.7 L659.5,495.7 L660.0,495.7 L660.5,495.7 L661.0,495.7 L661.5,495.7" stroke="#8a8a8a" stroke-width="1.7"/>
</g>
<path d="M62.8,495.9 V501.29999999999995 M108.9,495.9 V505.7 M155.0,495.9 V501.29999999999995 M201.0,495.9 V505.7 M247.1,495.9 V501.29999999999995 M293.1,495.9 V505.7 M339.2,495.9 V501.29999999999995 M385.3,495.9 V505.7 M431.3,495.9 V501.29999999999995 M477.4,495.9 V505.7 M523.5,495.9 V501.29999999999995 M569.5,495.9 V505.7 M615.6,495.9 V501.29999999999995" stroke="#1a1a1a" stroke-width="2" fill="none"/>
<g font-family="Liberation Sans, sans-serif" font-size="21.5" fill="#222" stroke="#222" stroke-width="0.3" text-anchor="middle">
<text x="108.9" y="528.8">450</text>
<text x="201.0" y="528.8">500</text>
<text x="293.1" y="528.8">550</text>
<text x="385.3" y="528.8">600</text>
<text x="477.4" y="528.8">650</text>
<text x="569.5" y="528.8">700</text>
<text x="661.6" y="528.8">750</text>
</g>
<line x1="550" y1="36.6" x2="590" y2="36.6" stroke="#111111" stroke-width="2"/>
<text x="612" y="45.0" font-family="Liberation Sans, sans-serif" font-weight="bold" font-size="22.5" fill="#111" textLength="23" lengthAdjust="spacingAndGlyphs">b1</text>
<line x1="550" y1="64.9" x2="590" y2="64.9" stroke="#2424ea" stroke-width="2"/>
<text x="612" y="73.3" font-family="Liberation Sans, sans-serif" font-weight="bold" font-size="22.5" fill="#111" textLength="23" lengthAdjust="spacingAndGlyphs">b2</text>
<line x1="550" y1="93.4" x2="590" y2="93.4" stroke="#ff00ff" stroke-width="2"/>
<text x="612" y="101.8" font-family="Liberation Sans, sans-serif" font-weight="bold" font-size="22.5" fill="#111" textLength="23" lengthAdjust="spacingAndGlyphs">b3</text>
<line x1="550" y1="121.7" x2="590" y2="121.7" stroke="#8c8c1a" stroke-width="2"/>
<text x="612" y="130.1" font-family="Liberation Sans, sans-serif" font-weight="bold" font-size="22.5" fill="#111" textLength="23" lengthAdjust="spacingAndGlyphs">b4</text>
<line x1="550" y1="150.3" x2="590" y2="150.3" stroke="#8a8a8a" stroke-width="2"/>
<text x="612" y="158.7" font-family="Liberation Sans, sans-serif" font-weight="bold" font-size="22.5" fill="#111" textLength="23" lengthAdjust="spacingAndGlyphs">b5</text>
<text x="238.8" y="575" font-family="Liberation Sans, sans-serif" font-weight="bold" font-size="27.5" fill="#111" lengthAdjust="spacingAndGlyphs" textLength="155.7">Wavelength</text>
<text x="401.4" y="575" font-family="Liberation Sans, sans-serif" font-weight="bold" font-size="27.5" fill="#111" lengthAdjust="spacingAndGlyphs" textLength="64.0">(nm)</text>
<text transform="translate(32.3,432.5) rotate(-90)" font-family="Liberation Sans, sans-serif" font-weight="bold" font-size="27.5" fill="#111" lengthAdjust="spacingAndGlyphs" textLength="152.4">Normalised</text>
<text transform="translate(32.3,275.4) rotate(-90)" font-family="Liberation Sans, sans-serif" font-weight="bold" font-size="27.5" fill="#111" lengthAdjust="spacingAndGlyphs" textLength="116.8">Intensity</text>
<text transform="translate(32.3,155.4) rotate(-90)" font-family="Liberation Sans, sans-serif" font-weight="bold" font-size="27.5" fill="#111" lengthAdjust="spacingAndGlyphs" textLength="73.5">(a.u.)</text>
<g transform="translate(294.1,315) rotate(-90)" font-family="Liberation Sans, sans-serif" fill="#222"><text transform="translate(-0.57,-8.3) scale(1.0,1)" font-size="14.3" stroke="#222" stroke-width="0.35">5</text><text transform="translate(8.26,0) scale(0.8,1)" font-size="22" stroke="#222" stroke-width="0.35">D</text><text transform="translate(23.51,6.3) scale(1.0,1)" font-size="14.3" stroke="#222" stroke-width="0.35">1</text><path d="M34,-6.4 H55.6" stroke="#222" stroke-width="1.5" fill="none"/><path d="M51.2,-10.7 L56.2,-6.4 L51.2,-2.1000000000000005" stroke="#222" stroke-width="1.5" fill="none" stroke-linejoin="miter"/><text transform="translate(58.27,-8.3) scale(1.0,1)" font-size="14.3" stroke="#222" stroke-width="0.35">7</text><text transform="translate(66.95,0) scale(0.75,1)" font-size="22" stroke="#222" stroke-width="0.35">F</text><text transform="translate(78.28,6.3) scale(1.0,1)" font-size="14.3" stroke="#222" stroke-width="0.35">2</text></g>
<g transform="translate(371.8,278.1) rotate(-90)" font-family="Liberation Sans, sans-serif" fill="#222"><text transform="translate(-0.57,-8.3) scale(1.0,1)" font-size="14.3" stroke="#222" stroke-width="0.35">5</text><text transform="translate(8.06,0) scale(0.8,1)" font-size="22" stroke="#222" stroke-width="0.35">D</text><text transform="translate(22.94,6.3) scale(1.0,1)" font-size="14.3" stroke="#222" stroke-width="0.35">0</text><path d="M33,-6.4 H53.199999999999996" stroke="#222" stroke-width="1.5" fill="none"/><path d="M48.8,-10.7 L53.8,-6.4 L48.8,-2.1000000000000005" stroke="#222" stroke-width="1.5" fill="none" stroke-linejoin="miter"/><text transform="translate(54.27,-8.3) scale(1.0,1)" font-size="14.3" stroke="#222" stroke-width="0.35">7</text><text transform="translate(62.65,0) scale(0.75,1)" font-size="22" stroke="#222" stroke-width="0.35">F</text><text transform="translate(75.11,6.3) scale(1.0,1)" font-size="14.3" stroke="#222" stroke-width="0.35">1</text></g>
<g transform="translate(418.0,351.2) rotate(-90)" font-family="Liberation Sans, sans-serif" fill="#222"><text transform="translate(-0.57,-8.3) scale(1.0,1)" font-size="14.3" stroke="#222" stroke-width="0.35">5</text><text transform="translate(8.06,0) scale(0.8,1)" font-size="22" stroke="#222" stroke-width="0.35">D</text><text transform="translate(22.94,6.3) scale(1.0,1)" font-size="14.3" stroke="#222" stroke-width="0.35">0</text><path d="M33,-6.4 H53.199999999999996" stroke="#222" stroke-width="1.5" fill="none"/><path d="M48.8,-10.7 L53.8,-6.4 L48.8,-2.1000000000000005" stroke="#222" stroke-width="1.5" fill="none" stroke-linejoin="miter"/><text transform="translate(54.27,-8.3) scale(1.0,1)" font-size="14.3" stroke="#222" stroke-width="0.35">7</text><text transform="translate(62.65,0) scale(0.75,1)" font-size="22" stroke="#222" stroke-width="0.35">F</text><text transform="translate(75.48,6.3) scale(1.0,1)" font-size="14.3" stroke="#222" stroke-width="0.35">2</text></g>
<g transform="translate(488.6,455.4) rotate(-90)" font-family="Liberation Sans, sans-serif" fill="#222"><text transform="translate(-0.57,-8.3) scale(1.0,1)" font-size="14.3" stroke="#222" stroke-width="0.35">5</text><text transform="translate(8.06,0) scale(0.8,1)" font-size="22" stroke="#222" stroke-width="0.35">D</text><text transform="translate(22.94,6.3) scale(1.0,1)" font-size="14.3" stroke="#222" stroke-width="0.35">0</text><path d="M33,-6.4 H53.199999999999996" stroke="#222" stroke-width="1.5" fill="none"/><path d="M48.8,-10.7 L53.8,-6.4 L48.8,-2.1000000000000005" stroke="#222" stroke-width="1.5" fill="none" stroke-linejoin="miter"/><text transform="translate(54.27,-8.3) scale(1.0,1)" font-size="14.3" stroke="#222" stroke-width="0.35">7</text><text transform="translate(62.65,0) scale(0.75,1)" font-size="22" stroke="#222" stroke-width="0.35">F</text><text transform="translate(75.66,6.3) scale(1.0,1)" font-size="14.3" stroke="#222" stroke-width="0.35">3</text></g>
<g transform="translate(570.8,424.3) rotate(-90)" font-family="Liberation Sans, sans-serif" fill="#222"><text transform="translate(-0.57,-8.3) scale(1.0,1)" font-size="14.3" stroke="#222" stroke-width="0.35">5</text><text transform="translate(8.06,0) scale(0.8,1)" font-size="22" stroke="#222" stroke-width="0.35">D</text><text transform="translate(22.94,6.3) scale(1.0,1)" font-size="14.3" stroke="#222" stroke-width="0.35">0</text><path d="M33,-6.4 H53.199999999999996" stroke="#222" stroke-width="1.5" fill="none"/><path d="M48.8,-10.7 L53.8,-6.4 L48.8,-2.1000000000000005" stroke="#222" stroke-width="1.5" fill="none" stroke-linejoin="miter"/><text transform="translate(54.27,-8.3) scale(1.0,1)" font-size="14.3" stroke="#222" stroke-width="0.35">7</text><text transform="translate(62.65,0) scale(0.75,1)" font-size="22" stroke="#222" stroke-width="0.35">F</text><text transform="translate(75.87,6.3) scale(1.0,1)" font-size="14.3" stroke="#222" stroke-width="0.35">4</text></g>
</svg>
</body></html>
